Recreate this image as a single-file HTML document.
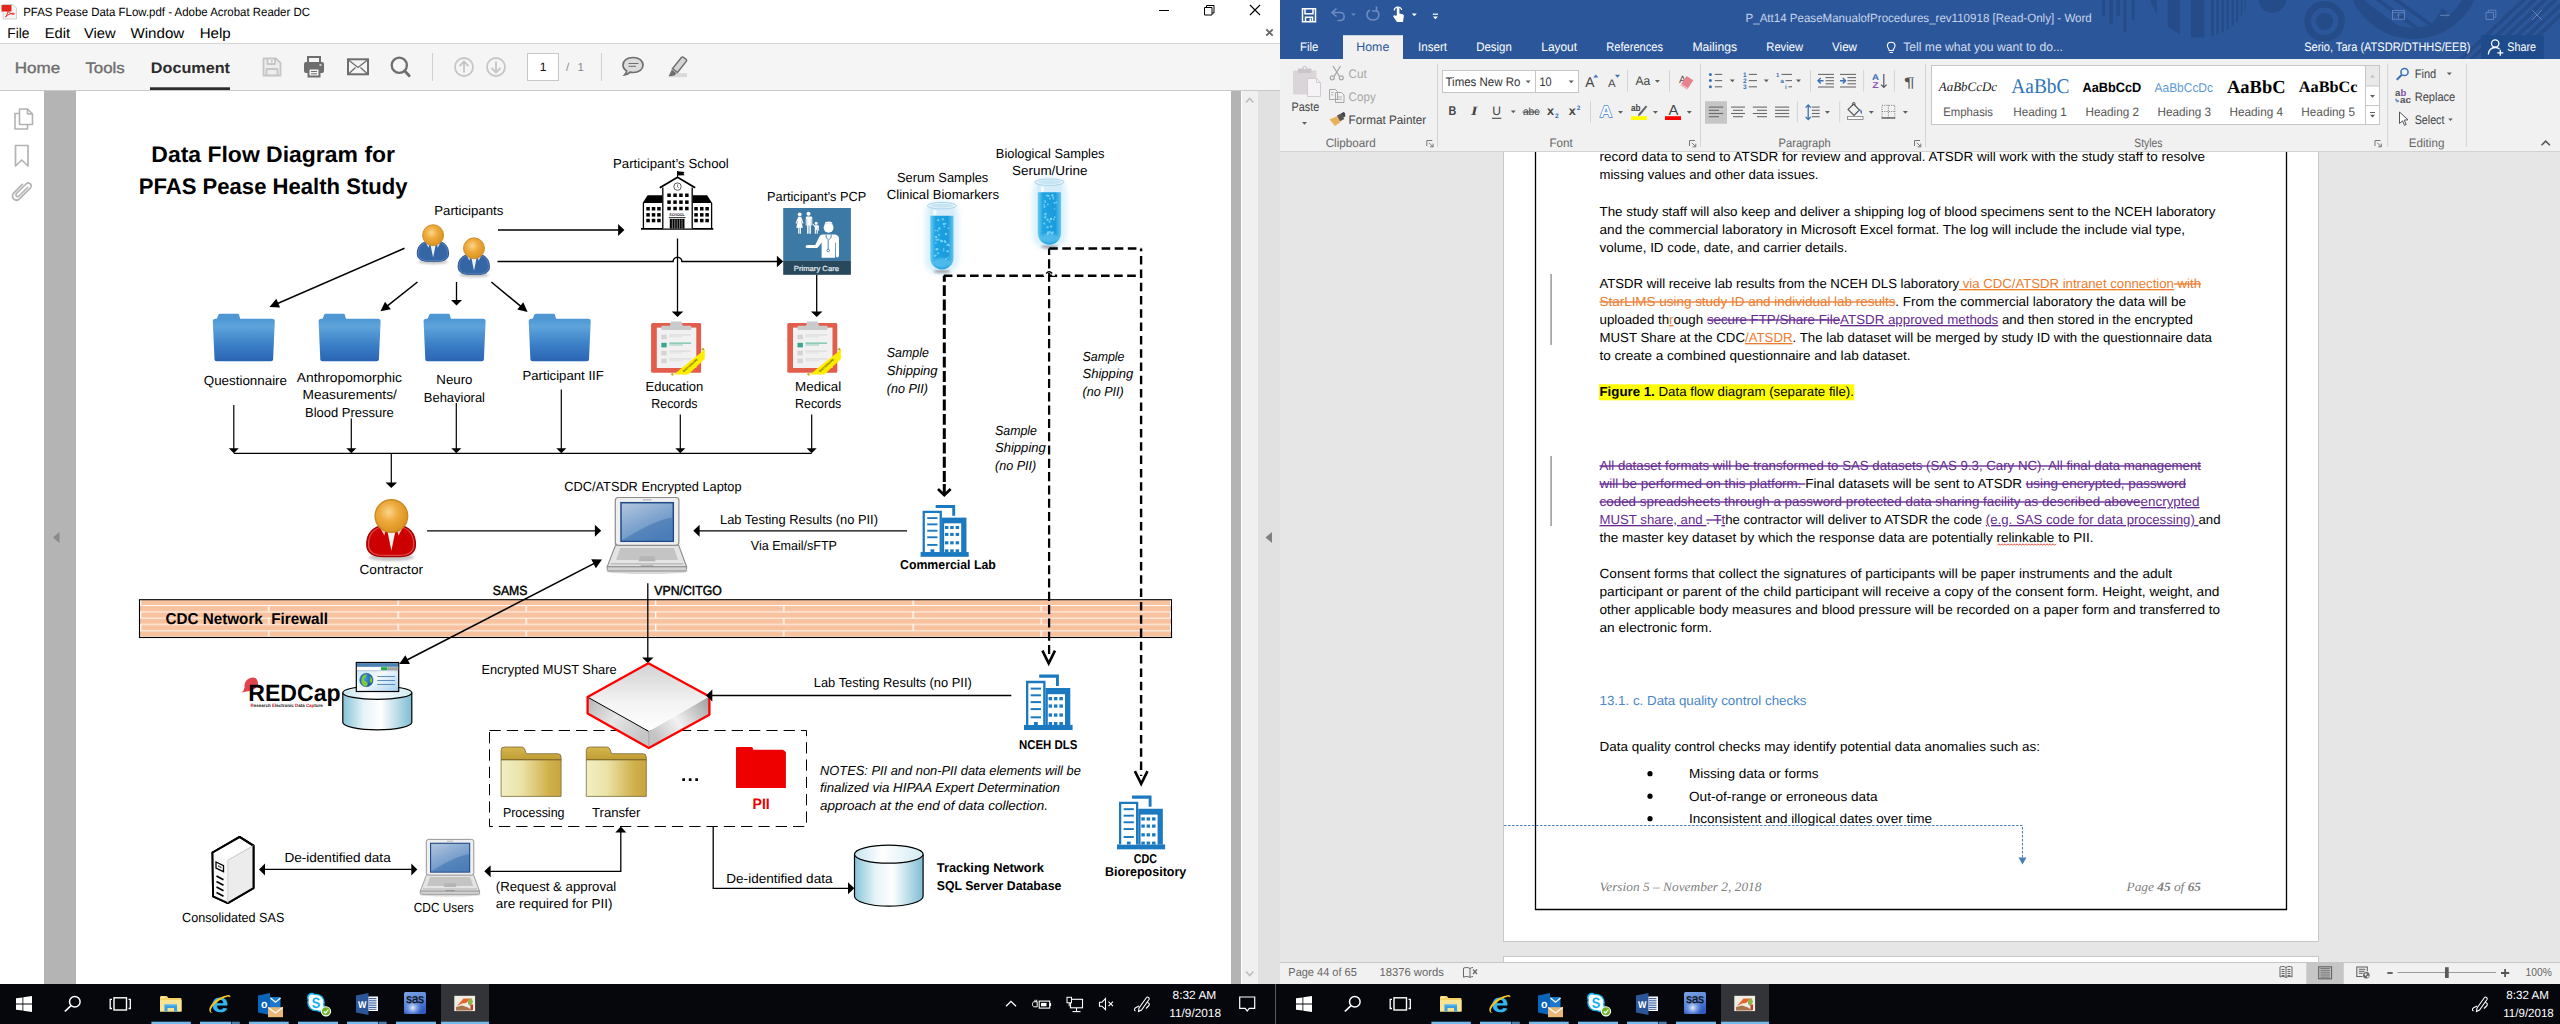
<!DOCTYPE html>
<html lang="en"><head><meta charset="utf-8"><title>PFAS Pease Data Flow - Acrobat Reader / Word</title>
<style>
html,body{margin:0;padding:0;background:#fff;overflow:hidden}
body{width:2560px;height:1024px;position:relative}
svg{position:absolute;left:0;top:0;display:block;font-family:"Liberation Sans",sans-serif;font-size:13.2px;fill:#000}
svg text{white-space:pre}
</style></head><body>
<svg width="2560" height="1024" viewBox="0 0 2560 1024" text-rendering="geometricPrecision">
<g id="acrobat-window"><rect x="0" y="0" width="1280" height="44" fill="#ffffff"/>
<rect x="0" y="44" width="1280" height="46" fill="#f5f5f5"/>
<rect x="0" y="43" width="1280" height="1" fill="#d4d4d4"/>
<rect x="0" y="90" width="1280" height="1" fill="#c9c9c9"/>
<rect x="0" y="91" width="44" height="893" fill="#ffffff"/>
<rect x="44" y="91" width="32" height="893" fill="#b4b4b4"/>
<rect x="76" y="91" width="1155" height="893" fill="#ffffff"/>
<rect x="1231" y="91" width="10" height="893" fill="#b4b4b4"/>
<rect x="1241" y="91" width="17" height="893" fill="#f0f0f0"/>
<rect x="1258" y="91" width="22" height="893" fill="#e1e1e1"/>
<rect x="1241" y="91" width="1" height="893" fill="#ffffff"/>
<g><path d="M3 4.5h10l3.5 3.5v11h-13.5z" fill="#f4f4f4" stroke="#c8c8c8" stroke-width="0.8"/><rect x="1.5" y="5" width="10" height="6.5" fill="#e1251b"/><path d="M5.5 17c2-2.5 3-6 2.6-8.6c-.3-1.3-1.5-.8-1.2.8c.6 2.6 3.4 5 6.6 5.2c1.4 0 1.2-1.3-.3-1.2c-2.6.2-6 1.6-7.7 3.8z" fill="none" stroke="#e1251b" stroke-width="0.9"/></g>
<text x="23.2" y="15.5" textLength="286.8" lengthAdjust="spacingAndGlyphs" font-size="12" fill="#000">PFAS Pease Data FLow.pdf - Adobe Acrobat Reader DC</text>
<line x1="1159" y1="10.5" x2="1169" y2="10.5" stroke="#000" stroke-width="1"/>
<path d="M1204.5 7.5h7.5v7.5h-7.5z M1206.5 7.5v-2h7.5v7.5h-2" fill="none" stroke="#000" stroke-width="1"/>
<path d="M1250 5l10 10M1260 5l-10 10" fill="none" stroke="#000" stroke-width="1.1"/>
<path d="M1266.3 29.3l6.4 6.4M1272.7 29.3l-6.4 6.4" fill="none" stroke="#666" stroke-width="1.8"/>
<text x="7.3" y="38.3" textLength="22.2" lengthAdjust="spacingAndGlyphs" font-size="14.2" fill="#000">File</text>
<text x="44.7" y="38.3" textLength="25.3" lengthAdjust="spacingAndGlyphs" font-size="14.2" fill="#000">Edit</text>
<text x="84" y="38.3" textLength="31.6" lengthAdjust="spacingAndGlyphs" font-size="14.2" fill="#000">View</text>
<text x="130.5" y="38.3" textLength="53.7" lengthAdjust="spacingAndGlyphs" font-size="14.2" fill="#000">Window</text>
<text x="199.7" y="38.3" textLength="31" lengthAdjust="spacingAndGlyphs" font-size="14.2" fill="#000">Help</text>
<text x="14.8" y="72.7" textLength="45.4" lengthAdjust="spacingAndGlyphs" font-size="15.2" fill="#6e6e6e" stroke="#6e6e6e" stroke-width="0.35">Home</text>
<text x="85.4" y="72.7" textLength="39.4" lengthAdjust="spacingAndGlyphs" font-size="15.2" fill="#6e6e6e" stroke="#6e6e6e" stroke-width="0.35">Tools</text>
<text x="150.8" y="72.7" textLength="79.2" lengthAdjust="spacingAndGlyphs" font-size="15.2" fill="#2c2c2c" font-weight="bold">Document</text>
<rect x="150" y="87.3" width="80" height="2.7" fill="#2c2c2c"/>
<path d="M263.5 58.5h12.5l4.5 4.5v12.5h-17z M267.5 58.5v5.5h7.5v-5.5 M271.8 60v2.5 M266.5 75.5v-6.5h11v6.5" fill="#ededed" stroke="#c6c6c6" stroke-width="1.8" stroke-linejoin="round"/>
<path d="M308 62v-5h12v5" fill="#f5f5f5" stroke="#6e6e6e" stroke-width="2"/><rect x="304" y="62" width="20" height="11" fill="#6e6e6e" rx="2"/><rect x="308.5" y="68.5" width="11" height="8" fill="#f5f5f5" stroke="#6e6e6e" stroke-width="2"/><line x1="311" y1="71.5" x2="317" y2="71.5" stroke="#6e6e6e" stroke-width="1"/><line x1="311" y1="73.8" x2="317" y2="73.8" stroke="#6e6e6e" stroke-width="1"/><rect x="319.5" y="64.3" width="2" height="1.4" fill="#f5f5f5"/>
<rect x="348" y="59.3" width="20" height="15" fill="#f5f5f5" stroke="#6e6e6e" stroke-width="2"/><path d="M348.5 60l9.5 7.5l9.5-7.5M348.5 74l7-6.5M367.5 74l-7-6.5" fill="none" stroke="#6e6e6e" stroke-width="1.3"/>
<circle cx="399.3" cy="65.3" r="7.6" fill="none" stroke="#6e6e6e" stroke-width="2.3"/><line x1="404.8" y1="71" x2="409.2" y2="75.8" stroke="#6e6e6e" stroke-width="2.8" stroke-linecap="round"/>
<line x1="432.5" y1="53" x2="432.5" y2="81" stroke="#d0d0d0" stroke-width="1"/>
<circle cx="464" cy="67" r="9" fill="none" stroke="#c6c6c6" stroke-width="1.8"/><path d="M464 72.5v-10.5M459.5 66l4.5-4.5l4.5 4.5" fill="none" stroke="#c6c6c6" stroke-width="1.8"/>
<circle cx="496" cy="67" r="9" fill="none" stroke="#c6c6c6" stroke-width="1.8"/><path d="M496 61.5v10.5M491.5 68l4.5 4.5l4.5-4.5" fill="none" stroke="#c6c6c6" stroke-width="1.8"/>
<rect x="527.5" y="53.5" width="31" height="27" fill="#ffffff" stroke="#c8c8c8" stroke-width="1"/>
<text x="543" y="70.6" font-size="12" fill="#111" text-anchor="middle">1</text>
<text x="566" y="70.6" font-size="11.5" fill="#8a8a8a">/</text>
<text x="577.5" y="70.6" font-size="11.5" fill="#8a8a8a">1</text>
<line x1="601.5" y1="53" x2="601.5" y2="81" stroke="#d0d0d0" stroke-width="1"/>
<path d="M633 57.5c6 0 10 3.3 10 7.5s-4 7.5-10 7.5c-1 0-2-.1-2.9-.3c-1.5 1.6-3.4 2.4-5.4 2.6c1.1-1.1 1.8-2.400 1.9-3.900c-2.200-1.400-3.600-3.500-3.600-5.900c0-4.200 4-7.500 10-7.500z" fill="#dcdcdc" stroke="#6e6e6e" stroke-width="1.7"/><line x1="628.5" y1="63.5" x2="638.5" y2="63.5" stroke="#6e6e6e" stroke-width="1"/><line x1="628.5" y1="66.3" x2="636" y2="66.3" stroke="#6e6e6e" stroke-width="1"/>
<rect x="670" y="73.2" width="17" height="4" fill="#d9d9d9"/><path d="M683.5 57.3l2.8 2.2c.5.5.5 1.100.1 1.600l-8.900 11.400l-5-3.900l8.900-11.100c.6-.6 1.4-.7 2.100-.2z" fill="#d4d4d4" stroke="#6e6e6e" stroke-width="1.5"/><path d="M671.800 69.500l4.800 3.700l-2.200 2.300l-5.900 1.100z" fill="#6e6e6e"/>
<path d="M19.500 109h8l5 5v10.500h-13z M27.500 109v5h5 M19.500 113.500h-4.500v15.500h12.500v-4.500" fill="none" stroke="#b3b3b3" stroke-width="1.6" stroke-linejoin="round"/>
<path d="M15.500 145.500h12.500v20.500l-6.250-6l-6.250 6z" fill="none" stroke="#b3b3b3" stroke-width="1.7" stroke-linejoin="round"/>
<path d="M27.500 187.500l-8.500 8.500c-1.700 1.700-4.200-.8-2.500-2.500l9.500-9.500c3-3 7.200 1.200 4.200 4.200l-10.500 10.500c-4.200 4.200-10-1.600-5.800-5.800l8.500-8.500" fill="none" stroke="#b3b3b3" stroke-width="1.7" stroke-linecap="round"/>
<path d="M59.500 532v11l-6.500-5.500z" fill="#8a8a8a"/>
<path d="M1272 532v11l-6.500-5.500z" fill="#808080"/>
<path d="M1246 102.500l3.700-4l3.700 4" fill="none" stroke="#bdbdbd" stroke-width="1.6"/>
<path d="M1246 971.500l3.700 4l3.700-4" fill="none" stroke="#bdbdbd" stroke-width="1.6"/></g>
<g id="pdf-page-diagram"><defs>
<filter id="blur3" x="-30%" y="-30%" width="160%" height="160%"><feGaussianBlur stdDeviation="2.5"/></filter><filter id="blur1" x="-30%" y="-50%" width="160%" height="200%"><feGaussianBlur stdDeviation="0.9"/></filter>
<radialGradient id="headg" cx="0.42" cy="0.38" r="0.65"><stop offset="0" stop-color="#fbd58a"/><stop offset="0.45" stop-color="#eeaa3c"/><stop offset="1" stop-color="#d8901f"/></radialGradient>
<linearGradient id="bfold" x1="0" y1="0" x2="0" y2="1"><stop offset="0" stop-color="#4e97d4"/><stop offset="0.18" stop-color="#5ea4db"/><stop offset="0.6" stop-color="#3c80c7"/><stop offset="1" stop-color="#2a64b4"/></linearGradient>
<linearGradient id="tubeg" x1="0" y1="0" x2="1" y2="0"><stop offset="0" stop-color="#6ccbf3"/><stop offset="0.22" stop-color="#1fa4e2"/><stop offset="0.75" stop-color="#1a9adb"/><stop offset="1" stop-color="#63c6f1"/></linearGradient>
<linearGradient id="scrg" x1="0" y1="0" x2="0.6" y2="1"><stop offset="0" stop-color="#b4c8e0"/><stop offset="0.5" stop-color="#86a8d0"/><stop offset="1" stop-color="#5a8bc4"/></linearGradient>
<linearGradient id="cylg" x1="0" y1="0" x2="1" y2="0"><stop offset="0" stop-color="#86c3d6"/><stop offset="0.3" stop-color="#e4f3f8"/><stop offset="0.55" stop-color="#ffffff"/><stop offset="1" stop-color="#7dbdd3"/></linearGradient>
<linearGradient id="cylgt" x1="0" y1="0" x2="1" y2="0"><stop offset="0" stop-color="#c5e4ee"/><stop offset="0.4" stop-color="#ffffff"/><stop offset="1" stop-color="#d2ebf2"/></linearGradient>
<linearGradient id="yfb" x1="0" y1="0" x2="0" y2="1"><stop offset="0" stop-color="#d6b74e"/><stop offset="1" stop-color="#bf9c34"/></linearGradient>
<linearGradient id="yff" x1="0" y1="0" x2="1" y2="0"><stop offset="0" stop-color="#f2efc4"/><stop offset="0.35" stop-color="#ebe2a6"/><stop offset="0.8" stop-color="#d0b04a"/><stop offset="1" stop-color="#c9a63e"/></linearGradient>
<linearGradient id="mtop" x1="0.5" y1="0" x2="0.5" y2="1"><stop offset="0" stop-color="#d2d2d2"/><stop offset="0.6" stop-color="#f4f4f4"/><stop offset="1" stop-color="#ffffff"/></linearGradient>
<linearGradient id="mleft" x1="0" y1="0" x2="1" y2="0.6"><stop offset="0" stop-color="#b4b4b4"/><stop offset="0.5" stop-color="#e6e6e6"/><stop offset="1" stop-color="#c6c6c6"/></linearGradient>
<linearGradient id="mright" x1="0" y1="0.6" x2="1" y2="0"><stop offset="0" stop-color="#c4c4c4"/><stop offset="0.4" stop-color="#f2f2f2"/><stop offset="1" stop-color="#9c9c9c"/></linearGradient>
<linearGradient id="brw" x1="0" y1="0" x2="1" y2="1"><stop offset="0" stop-color="#bcdcf4"/><stop offset="0.5" stop-color="#f4faff"/><stop offset="1" stop-color="#a4cdee"/></linearGradient>
<radialGradient id="globe" cx="0.4" cy="0.4" r="0.7"><stop offset="0" stop-color="#3f9ee0"/><stop offset="1" stop-color="#14509e"/></radialGradient>
<pattern id="brick" x="140" y="592.340" width="257.500" height="12.660" patternUnits="userSpaceOnUse"><rect width="257.500" height="12.660" fill="#f8c29e"/><rect y="0" width="257.500" height="1" fill="#fff" opacity="0.92"/><rect y="6.330" width="257.500" height="1" fill="#fff" opacity="0.92"/><rect x="128.100" y="0" width="1.300" height="6.330" fill="#fff"/><rect x="0" y="6.330" width="1.300" height="6.330" fill="#fff"/></pattern>
</defs>
<text x="151.3" y="162" textLength="243.7" lengthAdjust="spacingAndGlyphs" font-size="22.4" font-weight="bold">Data Flow Diagram for</text>
<text x="138.8" y="194" textLength="268.7" lengthAdjust="spacingAndGlyphs" font-size="22.4" font-weight="bold">PFAS Pease Health Study</text>
<text x="434.3" y="214.7" textLength="69" lengthAdjust="spacingAndGlyphs" font-size="13.2">Participants</text>
<text x="613" y="168" textLength="115.8" lengthAdjust="spacingAndGlyphs" font-size="13.2">Participant’s School</text>
<text x="767" y="200.5" textLength="99.3" lengthAdjust="spacingAndGlyphs" font-size="13.2">Participant’s PCP</text>
<text x="897" y="181.8" textLength="91.3" lengthAdjust="spacingAndGlyphs" font-size="13.2">Serum Samples</text>
<text x="886.8" y="198.8" textLength="112.2" lengthAdjust="spacingAndGlyphs" font-size="13.2">Clinical Biomarkers</text>
<text x="995.8" y="158" textLength="108.7" lengthAdjust="spacingAndGlyphs" font-size="13.2">Biological Samples</text>
<text x="1012" y="174.6" textLength="75.5" lengthAdjust="spacingAndGlyphs" font-size="13.2">Serum/Urine</text>
<ellipse cx="433.1" cy="261.95" rx="14.86" ry="2.28" fill="#000" opacity="0.22" filter="url(#blur1)"/><path d="M417.25 254.02 C416.95 246.1,422.2 241.64,428.15 241.44 L438.05 241.44 C444 241.64,448.75 246.1,448.55 254.02 C448.35 259.47,444 261.25,438.05 261.25 L428.15 261.25 C422.2 261.25,417.45 259.47,417.25 254.02Z" fill="#3465a4" stroke="#204a87" stroke-width="0.89"/><path d="M418.36 253.83 C418.08 246.46,422.97 242.32,428.49 242.13 L437.71 242.13 C443.23 242.32,447.66 246.46,447.47 253.83 C447.29 258.9,443.23 260.56,437.71 260.56 L428.49 260.56 C422.97 260.56,418.54 258.9,418.36 253.83Z" fill="none" stroke="#6a96cf" stroke-width="0.79" opacity="0.7"/><path d="M430.43 244.41 L433.1 257.59 L435.77 244.41Z" fill="#eef2f2"/><path d="M426.17 243.42 L428.54 247.68 L429.63 243.42Z M440.03 243.42 L437.66 247.68 L436.57 243.42Z" fill="#ffffff" opacity="0.78"/><circle cx="433.1" cy="235.2" r="10.5" fill="url(#headg)" stroke="#c98a23" stroke-width="0.89"/>
<ellipse cx="474" cy="275.05" rx="14.86" ry="2.28" fill="#000" opacity="0.22" filter="url(#blur1)"/><path d="M458.15 267.12 C457.85 259.2,463.1 254.74,469.05 254.54 L478.95 254.54 C484.9 254.74,489.65 259.2,489.45 267.12 C489.25 272.57,484.9 274.35,478.95 274.35 L469.05 274.35 C463.1 274.35,458.35 272.57,458.15 267.12Z" fill="#3465a4" stroke="#204a87" stroke-width="0.89"/><path d="M459.26 266.93 C458.98 259.56,463.87 255.42,469.39 255.23 L478.61 255.23 C484.13 255.42,488.56 259.56,488.37 266.93 C488.19 272,484.13 273.66,478.61 273.66 L469.39 273.66 C463.87 273.66,459.44 272,459.26 266.93Z" fill="none" stroke="#6a96cf" stroke-width="0.79" opacity="0.7"/><path d="M471.33 257.51 L474 270.69 L476.67 257.51Z" fill="#eef2f2"/><path d="M467.07 256.52 L469.44 260.78 L470.53 256.52Z M480.93 256.52 L478.56 260.78 L477.47 256.52Z" fill="#ffffff" opacity="0.78"/><circle cx="474" cy="248.3" r="10.5" fill="url(#headg)" stroke="#c98a23" stroke-width="0.89"/>
<line x1="498" y1="230" x2="619.36" y2="230" stroke="#000" stroke-width="1.3"/><polygon points="624.4,230 618.1,236 618.1,224" fill="#000"/>
<path d="M497.500 261.600H673.100a4.400 4.400 0 0 1 8.800 0H778.500" fill="none" stroke="#000" stroke-width="1.5"/><polygon points="783.2,261.6 776.9,267.35 776.9,255.85" fill="#000"/>
<line x1="677.5" y1="238.5" x2="677.5" y2="312.6" stroke="#000" stroke-width="1.3"/><polygon points="677.5,317 671.75,311.5 683.25,311.5" fill="#000"/>
<line x1="816.7" y1="274.8" x2="816.7" y2="312.6" stroke="#000" stroke-width="1.3"/><polygon points="816.7,317 810.95,311.5 822.45,311.5" fill="#000"/>
<line x1="404.5" y1="248.3" x2="276.47" y2="303.97" stroke="#000" stroke-width="1.5"/><polygon points="269.5,307 276.32,298.86 280.11,307.57" fill="#000"/>
<line x1="417.5" y1="282" x2="386.46" y2="306.58" stroke="#000" stroke-width="1.5"/><polygon points="380.5,311.3 385,301.68 390.9,309.13" fill="#000"/>
<line x1="456.5" y1="282" x2="456.5" y2="301.2" stroke="#000" stroke-width="1.3"/><polygon points="456.5,305.6 451,300.1 462,300.1" fill="#000"/>
<line x1="491.3" y1="282" x2="521.74" y2="307.16" stroke="#000" stroke-width="1.5"/><polygon points="527.6,312 517.25,309.61 523.3,302.29" fill="#000"/>
<path d="M216.3 319.7l2.300-5.200q.4-.8 1.400-.8h17.600q1 0 1.300.8l1.600 5.200z" fill="#4f97d3"/><path d="M212.8 321.3q0-2.600 2.600-2.600h56.800q2.600 0 2.600 2.600l-1.700 38q-.1 2-2 2h-54.600q-1.900 0-2-2z" fill="url(#bfold)"/>
<path d="M322.1 319.7l2.300-5.200q.4-.8 1.400-.8h17.600q1 0 1.300.8l1.600 5.200z" fill="#4f97d3"/><path d="M318.6 321.3q0-2.600 2.600-2.600h56.800q2.600 0 2.600 2.600l-1.700 38q-.1 2-2 2h-54.600q-1.900 0-2-2z" fill="url(#bfold)"/>
<path d="M427.1 319.7l2.300-5.200q.4-.8 1.400-.8h17.600q1 0 1.300.8l1.600 5.200z" fill="#4f97d3"/><path d="M423.6 321.3q0-2.600 2.600-2.600h56.800q2.600 0 2.600 2.600l-1.700 38q-.1 2-2 2h-54.600q-1.900 0-2-2z" fill="url(#bfold)"/>
<path d="M532.2 319.7l2.300-5.200q.4-.8 1.400-.8h17.600q1 0 1.300.8l1.600 5.200z" fill="#4f97d3"/><path d="M528.7 321.3q0-2.600 2.600-2.600h56.800q2.600 0 2.600 2.600l-1.700 38q-.1 2-2 2h-54.600q-1.900 0-2-2z" fill="url(#bfold)"/>
<text x="203.8" y="385" textLength="83.2" lengthAdjust="spacingAndGlyphs" font-size="13.2">Questionnaire</text>
<text x="296.8" y="382" textLength="105.2" lengthAdjust="spacingAndGlyphs" font-size="13.2">Anthropomorphic</text>
<text x="302.5" y="398.8" textLength="94.3" lengthAdjust="spacingAndGlyphs" font-size="13.2">Measurements/</text>
<text x="305" y="416.8" textLength="88.8" lengthAdjust="spacingAndGlyphs" font-size="13.2">Blood Pressure</text>
<text x="436.3" y="383.8" textLength="36.2" lengthAdjust="spacingAndGlyphs" font-size="13.2">Neuro</text>
<text x="423.8" y="402" textLength="61.2" lengthAdjust="spacingAndGlyphs" font-size="13.2">Behavioral</text>
<text x="522.5" y="380" textLength="81.3" lengthAdjust="spacingAndGlyphs" font-size="13.2">Participant IIF</text>
<text x="645.5" y="391.3" textLength="57.8" lengthAdjust="spacingAndGlyphs" font-size="13.2">Education</text>
<text x="651.3" y="408" textLength="46.2" lengthAdjust="spacingAndGlyphs" font-size="13.2">Records</text>
<text x="795" y="391.3" textLength="46.3" lengthAdjust="spacingAndGlyphs" font-size="13.2">Medical</text>
<text x="795" y="408" textLength="46.3" lengthAdjust="spacingAndGlyphs" font-size="13.2">Records</text>
<line x1="641" y1="228.9" x2="713.3" y2="228.9" stroke="#000" stroke-width="1.6"/><path d="M662.800 228.500v-41l14.700-9l14.700 9v41z" fill="#fff"/><path d="M662.800 228.500v-41M692.200 228.500v-41" fill="none" stroke="#000" stroke-width="1.3"/><path d="M659.800 187.800l17.700-10.500l17.700 10.500" fill="none" stroke="#000" stroke-width="1.9"/><line x1="677.5" y1="177.5" x2="677.5" y2="171" stroke="#000" stroke-width="1"/><path d="M677.500 171.300l7 .6l-1 1.600l1 1.800l-7 .3z" fill="#000"/><circle cx="677.5" cy="186.6" r="3.7" fill="#fff" stroke="#333" stroke-width="0.8"/><path d="M677.500 184.300v2.500l1.300 1" fill="none" stroke="#333" stroke-width="0.6"/><rect x="667.3" y="193.5" width="3.5" height="3.5" fill="#000"/><rect x="667.3" y="200.4" width="3.5" height="3.5" fill="#000"/><rect x="667.3" y="206.8" width="3.5" height="3.5" fill="#000"/><rect x="673.3" y="193.5" width="3.5" height="3.5" fill="#000"/><rect x="673.3" y="200.4" width="3.5" height="3.5" fill="#000"/><rect x="673.3" y="206.8" width="3.5" height="3.5" fill="#000"/><rect x="679.2" y="193.5" width="3.5" height="3.5" fill="#000"/><rect x="679.2" y="200.4" width="3.5" height="3.5" fill="#000"/><rect x="679.2" y="206.8" width="3.5" height="3.5" fill="#000"/><rect x="685.1" y="193.5" width="3.5" height="3.5" fill="#000"/><rect x="685.1" y="200.4" width="3.5" height="3.5" fill="#000"/><rect x="685.1" y="206.8" width="3.5" height="3.5" fill="#000"/><text x="669.3" y="215.8" textLength="15.5" lengthAdjust="spacingAndGlyphs" font-size="3.9" fill="#222" font-weight="bold">SCHOOL</text><line x1="668.8" y1="217.7" x2="685.5" y2="217.7" stroke="#000" stroke-width="0.9"/><rect x="669.8" y="219" width="14.7" height="9.6" fill="#000"/><line x1="672.3" y1="219.3" x2="672.3" y2="228.5" stroke="#fff" stroke-width="0.5"/><line x1="674.8" y1="219.3" x2="674.8" y2="228.5" stroke="#fff" stroke-width="0.5"/><line x1="677.2" y1="219.3" x2="677.2" y2="228.5" stroke="#fff" stroke-width="0.5"/><line x1="679.6" y1="219.3" x2="679.6" y2="228.5" stroke="#fff" stroke-width="0.5"/><line x1="682" y1="219.3" x2="682" y2="228.5" stroke="#fff" stroke-width="0.5"/><path d="M647.600 195.200h14.600v7.800h-19.600z" fill="#000"/><path d="M692.800 195.200h14.300l5 7.800h-19.300z" fill="#000"/><path d="M643.400 203v25.500M711.600 203v25.500" fill="none" stroke="#000" stroke-width="1.3"/><rect x="646.3" y="207" width="3.5" height="3.5" fill="#000"/><rect x="646.3" y="213.1" width="3.5" height="3.5" fill="#000"/><rect x="646.3" y="218.8" width="3.5" height="3.5" fill="#000"/><rect x="651.8" y="207" width="3.5" height="3.5" fill="#000"/><rect x="651.8" y="213.1" width="3.5" height="3.5" fill="#000"/><rect x="651.8" y="218.8" width="3.5" height="3.5" fill="#000"/><rect x="657.2" y="207" width="3.5" height="3.5" fill="#000"/><rect x="657.2" y="213.1" width="3.5" height="3.5" fill="#000"/><rect x="657.2" y="218.8" width="3.5" height="3.5" fill="#000"/><rect x="694.3" y="207" width="3.5" height="3.5" fill="#000"/><rect x="694.3" y="213.1" width="3.5" height="3.5" fill="#000"/><rect x="694.3" y="218.8" width="3.5" height="3.5" fill="#000"/><rect x="700" y="207" width="3.5" height="3.5" fill="#000"/><rect x="700" y="213.1" width="3.5" height="3.5" fill="#000"/><rect x="700" y="218.8" width="3.5" height="3.5" fill="#000"/><rect x="705.4" y="207" width="3.5" height="3.5" fill="#000"/><rect x="705.4" y="213.1" width="3.5" height="3.5" fill="#000"/><rect x="705.4" y="218.8" width="3.5" height="3.5" fill="#000"/>
<rect x="783.2" y="208" width="67.7" height="52.9" fill="#3d79a5"/><rect x="783.2" y="260.8" width="67.7" height="14" fill="#28495d"/><text x="793.8" y="270.6" textLength="45.2" lengthAdjust="spacingAndGlyphs" font-size="7.4" fill="#e8eef2" stroke="#e8eef2" stroke-width="0.2">Primary Care</text><circle cx="799.7" cy="214.3" r="1.9" fill="#ffffff"/><path d="M798.200 216.800h3l2.300 6.500l-.9.400l-1.700-4l2 8h-2v6h-1.100v-6h-.5v6h-1.100v-6h-2l2-8l-1.700 4l-.9-.4z" fill="#ffffff"/><circle cx="808.5" cy="213.8" r="2" fill="#ffffff"/><path d="M806 216.600h5q1.300 0 1.300 1.400v7.400h-1v-6.600h-.4v15h-1.500v-8.400h-.8v8.400h-1.500v-15h-.4v6.600h-1v-7.400q0-1.400 1.300-1.400z" fill="#ffffff"/><circle cx="816.2" cy="223.3" r="1.5" fill="#ffffff"/><path d="M814.500 225.300h3.400q1 0 1 1v4.400h-.8v-3.800h-.3v6.900h-1.100v-4h-.8v4h-1.100v-6.900l-2.100-2.500l.5-.6z" fill="#ffffff"/><circle cx="828.6" cy="227.8" r="4.9" fill="#ffffff"/><path d="M824.800 224.300q3.800-2.600 7.600 0l-.4-2q-3.400-1.600-6.800 0z" fill="#ffffff"/><path d="M822.500 234.500h12.500q4 .6 4 4.500v16q0 2.600-1.600 2.600t-1.600-2.600v-12.500h-.7v15.300h-13.500v-15.300l-3.300 4.600q-.7 1-1.900 1h-9q-1.800 0-1.800-1.500t1.800-1.600h7.800l4.300-8.500q1-2 3-2z" fill="#ffffff"/><path d="M826 234.800q-.3 4 2.200 4.600v9.800 M831.300 234.800q.3 4-2.200 4.600" fill="none" stroke="#3d79a5" stroke-width="0.9"/><circle cx="828.2" cy="250.5" r="1.3" fill="none" stroke="#3d79a5" stroke-width="0.9"/>
<rect x="924.9" y="200.7" width="34" height="73.3" fill="#bfe6fa" rx="14" filter="url(#blur3)" opacity="0.55"/><ellipse cx="941.9" cy="271.5" rx="8.5" ry="1.7" fill="#000" opacity="0.30" filter="url(#blur1)"/><path d="M929.5 206.2v51.4a12.400 12.400 0 0 0 24.800 0v-51.4z" fill="#d6edf9"/><path d="M930.3 215.7v42.2a11.600 11.600 0 0 0 23.200 0v-42.2z" fill="url(#tubeg)"/><ellipse cx="941.9" cy="263" rx="9" ry="5" fill="#7fd4f7" opacity="0.5" filter="url(#blur1)"/><circle cx="943.8" cy="223.82" r="1.19" fill="#8fe0ff" opacity="0.7"/><circle cx="937.58" cy="230.67" r="0.91" fill="#8fe0ff" opacity="0.7"/><circle cx="948.87" cy="245.17" r="1.16" fill="#8fe0ff" opacity="0.7"/><circle cx="944.29" cy="226.62" r="0.83" fill="#8fe0ff" opacity="0.7"/><circle cx="947.53" cy="251.18" r="1.21" fill="#8fe0ff" opacity="0.7"/><circle cx="940.79" cy="240.5" r="0.97" fill="#8fe0ff" opacity="0.7"/><circle cx="936.24" cy="249.38" r="1.01" fill="#8fe0ff" opacity="0.7"/><circle cx="947.01" cy="245.4" r="0.78" fill="#8fe0ff" opacity="0.7"/><circle cx="935.45" cy="230.49" r="0.79" fill="#8fe0ff" opacity="0.7"/><circle cx="938.99" cy="235.12" r="1.06" fill="#8fe0ff" opacity="0.7"/><circle cx="945.98" cy="233.93" r="1.23" fill="#8fe0ff" opacity="0.7"/><circle cx="948.37" cy="228.12" r="0.92" fill="#8fe0ff" opacity="0.7"/><circle cx="938.35" cy="239.65" r="1.07" fill="#8fe0ff" opacity="0.7"/><circle cx="948.14" cy="257.42" r="0.71" fill="#8fe0ff" opacity="0.7"/><circle cx="945.31" cy="242.09" r="1.18" fill="#8fe0ff" opacity="0.7"/><circle cx="939.35" cy="228.52" r="1.19" fill="#8fe0ff" opacity="0.7"/><circle cx="935.91" cy="255.31" r="0.76" fill="#8fe0ff" opacity="0.7"/><circle cx="946.19" cy="258.9" r="0.88" fill="#8fe0ff" opacity="0.7"/><circle cx="943.85" cy="224.57" r="0.77" fill="#8fe0ff" opacity="0.7"/><circle cx="947.73" cy="244.32" r="0.92" fill="#8fe0ff" opacity="0.7"/><circle cx="944.82" cy="240.98" r="1.09" fill="#8fe0ff" opacity="0.7"/><circle cx="935.01" cy="255.86" r="1.15" fill="#8fe0ff" opacity="0.7"/><circle cx="943.62" cy="250.43" r="0.87" fill="#8fe0ff" opacity="0.7"/><circle cx="941.9" cy="241.23" r="1.25" fill="#8fe0ff" opacity="0.7"/><circle cx="945.63" cy="223.69" r="0.84" fill="#8fe0ff" opacity="0.7"/><circle cx="936.77" cy="237.53" r="0.76" fill="#8fe0ff" opacity="0.7"/><circle cx="937.29" cy="249.16" r="1.21" fill="#8fe0ff" opacity="0.7"/><circle cx="942.88" cy="219.39" r="1.08" fill="#8fe0ff" opacity="0.7"/><circle cx="938.04" cy="253.26" r="1.1" fill="#8fe0ff" opacity="0.7"/><circle cx="938.2" cy="220.1" r="1.19" fill="#8fe0ff" opacity="0.7"/><circle cx="935.95" cy="236.9" r="1.19" fill="#8fe0ff" opacity="0.7"/><circle cx="936.36" cy="239.84" r="1.12" fill="#8fe0ff" opacity="0.7"/><circle cx="935.87" cy="243" r="0.87" fill="#8fe0ff" opacity="0.7"/><circle cx="943.76" cy="248.57" r="0.79" fill="#8fe0ff" opacity="0.7"/><ellipse cx="941.9" cy="205.7" rx="14.6" ry="3.2" fill="#e8f5fc" stroke="#a9d3ea" stroke-width="1"/><ellipse cx="941.9" cy="205.7" rx="11.5" ry="2" fill="#c5e4f4"/><rect x="933.4" y="210.2" width="3" height="5" fill="#fff" opacity="0.8"/>
<rect x="1032.4" y="177.2" width="34" height="72" fill="#bfe6fa" rx="14" filter="url(#blur3)" opacity="0.55"/><ellipse cx="1049.4" cy="246.7" rx="8.5" ry="1.7" fill="#000" opacity="0.30" filter="url(#blur1)"/><path d="M1037 182.7v50.1a12.400 12.400 0 0 0 24.800 0v-50.1z" fill="#d6edf9"/><path d="M1037.8 192.2v40.9a11.600 11.600 0 0 0 23.200 0v-40.9z" fill="url(#tubeg)"/><ellipse cx="1049.4" cy="238.2" rx="9" ry="5" fill="#7fd4f7" opacity="0.5" filter="url(#blur1)"/><circle cx="1053.92" cy="219.85" r="0.75" fill="#8fe0ff" opacity="0.7"/><circle cx="1047.81" cy="204.3" r="0.91" fill="#8fe0ff" opacity="0.7"/><circle cx="1056.32" cy="202.43" r="0.88" fill="#8fe0ff" opacity="0.7"/><circle cx="1044.61" cy="206.3" r="0.95" fill="#8fe0ff" opacity="0.7"/><circle cx="1045.64" cy="213.28" r="0.77" fill="#8fe0ff" opacity="0.7"/><circle cx="1044.03" cy="204.59" r="0.76" fill="#8fe0ff" opacity="0.7"/><circle cx="1054.72" cy="217.06" r="0.91" fill="#8fe0ff" opacity="0.7"/><circle cx="1054.59" cy="209.02" r="0.7" fill="#8fe0ff" opacity="0.7"/><circle cx="1051.95" cy="233.32" r="1.18" fill="#8fe0ff" opacity="0.7"/><circle cx="1047.02" cy="195.56" r="1.15" fill="#8fe0ff" opacity="0.7"/><circle cx="1050.9" cy="218.89" r="1.12" fill="#8fe0ff" opacity="0.7"/><circle cx="1044.68" cy="224.05" r="0.75" fill="#8fe0ff" opacity="0.7"/><circle cx="1051.04" cy="218.89" r="1.1" fill="#8fe0ff" opacity="0.7"/><circle cx="1052.84" cy="232.26" r="1.07" fill="#8fe0ff" opacity="0.7"/><circle cx="1048.55" cy="195.86" r="1.21" fill="#8fe0ff" opacity="0.7"/><circle cx="1052.34" cy="195.28" r="1.23" fill="#8fe0ff" opacity="0.7"/><circle cx="1054.56" cy="202.93" r="1" fill="#8fe0ff" opacity="0.7"/><circle cx="1047.8" cy="233.93" r="1.08" fill="#8fe0ff" opacity="0.7"/><circle cx="1043.99" cy="223.32" r="0.91" fill="#8fe0ff" opacity="0.7"/><circle cx="1053.22" cy="197.46" r="1.02" fill="#8fe0ff" opacity="0.7"/><circle cx="1047.56" cy="219.78" r="1.2" fill="#8fe0ff" opacity="0.7"/><circle cx="1051.17" cy="226.43" r="1.17" fill="#8fe0ff" opacity="0.7"/><circle cx="1053.57" cy="218.75" r="0.86" fill="#8fe0ff" opacity="0.7"/><circle cx="1044.39" cy="207.16" r="0.73" fill="#8fe0ff" opacity="0.7"/><circle cx="1053.63" cy="199.03" r="0.8" fill="#8fe0ff" opacity="0.7"/><circle cx="1048.21" cy="232.35" r="1.21" fill="#8fe0ff" opacity="0.7"/><circle cx="1045.2" cy="217.28" r="1.21" fill="#8fe0ff" opacity="0.7"/><circle cx="1049.9" cy="198.69" r="0.89" fill="#8fe0ff" opacity="0.7"/><circle cx="1050.01" cy="232.07" r="1.08" fill="#8fe0ff" opacity="0.7"/><circle cx="1044.96" cy="200.66" r="0.73" fill="#8fe0ff" opacity="0.7"/><circle cx="1047.57" cy="227.12" r="1.24" fill="#8fe0ff" opacity="0.7"/><circle cx="1045.29" cy="214.33" r="1.2" fill="#8fe0ff" opacity="0.7"/><circle cx="1045.1" cy="201.99" r="0.91" fill="#8fe0ff" opacity="0.7"/><circle cx="1049.62" cy="221.63" r="1.05" fill="#8fe0ff" opacity="0.7"/><ellipse cx="1049.4" cy="182.2" rx="14.6" ry="3.2" fill="#e8f5fc" stroke="#a9d3ea" stroke-width="1"/><ellipse cx="1049.4" cy="182.2" rx="11.5" ry="2" fill="#c5e4f4"/><rect x="1040.9" y="186.7" width="3" height="5" fill="#fff" opacity="0.8"/>
<rect x="651.1" y="322.9" width="50" height="49.8" fill="#e25d4c" rx="1.5"/><rect x="656.8" y="327.6" width="39.5" height="40.4" fill="#f1f1f1"/><path d="M671 321.5h10.600l1.200 4.300h7.500q1 0 1 1v2.200q0 1-1 1h-28q-1 0-1-1v-2.200q0-1 1-1h7.500z" fill="#c9cacb"/><rect x="661.3" y="334.6" width="5.4" height="4.6" fill="#d4d4d4"/><rect x="669.3" y="334.3" width="21.7" height="1.3" fill="#dcdcdc"/><rect x="669.3" y="336.2" width="13.5" height="1.1" fill="#dcdcdc" opacity="0.7"/><rect x="661.3" y="342.8" width="5.4" height="4.6" fill="#3aa890"/><rect x="669.3" y="342.5" width="21.7" height="1.3" fill="#72c2aa"/><rect x="669.3" y="344.4" width="13.5" height="1.1" fill="#72c2aa" opacity="0.7"/><rect x="661.3" y="350.8" width="5.4" height="4.6" fill="#d4d4d4"/><rect x="669.3" y="350.5" width="21.7" height="1.3" fill="#dcdcdc"/><rect x="669.3" y="352.4" width="13.5" height="1.1" fill="#dcdcdc" opacity="0.7"/><rect x="661.3" y="358.6" width="5.4" height="4.6" fill="#d4d4d4"/><rect x="669.3" y="358.3" width="21.7" height="1.3" fill="#dcdcdc"/><rect x="669.3" y="360.2" width="13.5" height="1.1" fill="#dcdcdc" opacity="0.7"/><path d="M701.4 349.4l1.500-1.800q2 1.200 1.500 3.800z" fill="#c9a81e"/><path d="M673.1 372.7l-2.500 1.200q.5 1.500 3 1.800z" fill="#c9a81e"/><path d="M704.7 349.4l0 9.500l-16.500 15.600l-14.500 0z" fill="#ffed00"/><g transform="translate(683.6,372.2) rotate(-41)"><text x="0" y="0" textLength="19" lengthAdjust="spacingAndGlyphs" font-size="2.6" fill="#4a4200" font-weight="bold">QUESTIONNAIRE</text></g>
<rect x="787.3" y="322.9" width="50" height="49.8" fill="#e25d4c" rx="1.5"/><rect x="793" y="327.6" width="39.5" height="40.4" fill="#f1f1f1"/><path d="M807.2 321.5h10.600l1.200 4.300h7.500q1 0 1 1v2.200q0 1-1 1h-28q-1 0-1-1v-2.200q0-1 1-1h7.500z" fill="#c9cacb"/><rect x="797.5" y="334.6" width="5.4" height="4.6" fill="#d4d4d4"/><rect x="805.5" y="334.3" width="21.7" height="1.3" fill="#dcdcdc"/><rect x="805.5" y="336.2" width="13.5" height="1.1" fill="#dcdcdc" opacity="0.7"/><rect x="797.5" y="342.8" width="5.4" height="4.6" fill="#3aa890"/><rect x="805.5" y="342.5" width="21.7" height="1.3" fill="#72c2aa"/><rect x="805.5" y="344.4" width="13.5" height="1.1" fill="#72c2aa" opacity="0.7"/><rect x="797.5" y="350.8" width="5.4" height="4.6" fill="#d4d4d4"/><rect x="805.5" y="350.5" width="21.7" height="1.3" fill="#dcdcdc"/><rect x="805.5" y="352.4" width="13.5" height="1.1" fill="#dcdcdc" opacity="0.7"/><rect x="797.5" y="358.6" width="5.4" height="4.6" fill="#d4d4d4"/><rect x="805.5" y="358.3" width="21.7" height="1.3" fill="#dcdcdc"/><rect x="805.5" y="360.2" width="13.5" height="1.1" fill="#dcdcdc" opacity="0.7"/><path d="M837.6 349.4l1.500-1.800q2 1.200 1.500 3.800z" fill="#c9a81e"/><path d="M809.3 372.7l-2.500 1.200q.5 1.500 3 1.800z" fill="#c9a81e"/><path d="M840.9 349.4l0 9.500l-16.500 15.600l-14.500 0z" fill="#ffed00"/><g transform="translate(819.8,372.2) rotate(-41)"><text x="0" y="0" textLength="19" lengthAdjust="spacingAndGlyphs" font-size="2.6" fill="#4a4200" font-weight="bold">QUESTIONNAIRE</text></g>
<rect x="139.5" y="599.7" width="1032" height="37.8" fill="url(#brick)" stroke="#000" stroke-width="1.1"/>
<path d="M943.800 275.700H1141.200" fill="none" stroke="#000" stroke-width="2.5" stroke-dasharray="8.600 4.500"/>
<path d="M1049.200 248.600H1141.200" fill="none" stroke="#000" stroke-width="2.5" stroke-dasharray="8.600 4.500"/>
<path d="M1141.100 248.600V776" fill="none" stroke="#000" stroke-width="2.4" stroke-dasharray="8.500 4.800" stroke-dashoffset="5.800"/>
<path d="M944.300 275.700V486" fill="none" stroke="#000" stroke-width="3.05" stroke-dasharray="10.900 3.400" stroke-dashoffset="4.800"/>
<path d="M1049.100 248.600V655" fill="none" stroke="#000" stroke-width="2.25" stroke-dasharray="9.100 4.200" stroke-dashoffset="2.600"/>
<path d="M1044.800 275.700a4.400 4.400 0 0 1 8.800 0" fill="none" stroke="#fff" stroke-width="3"/><path d="M1046.200 273.500q3-3.500 6 0" fill="none" stroke="#000" stroke-width="1.5"/>
<path d="M938 489L944.300 495.200L950.600 489" fill="none" stroke="#000" stroke-width="2.7"/><line x1="944.3" y1="484" x2="944.3" y2="494" stroke="#000" stroke-width="3"/>
<path d="M1042.4 650.7L1048.7 663.3L1055 650.7" fill="none" stroke="#000" stroke-width="2.6" stroke-linejoin="miter"/>
<path d="M1134.9 771.2L1141.2 783.8L1147.5 771.2" fill="none" stroke="#000" stroke-width="2.6" stroke-linejoin="miter"/>
<text x="886.8" y="357" textLength="42" lengthAdjust="spacingAndGlyphs" font-size="13.2" font-style="italic">Sample</text>
<text x="886.8" y="374.5" textLength="50.8" lengthAdjust="spacingAndGlyphs" font-size="13.2" font-style="italic">Shipping</text>
<text x="886.8" y="392.5" textLength="41.2" lengthAdjust="spacingAndGlyphs" font-size="13.2" font-style="italic">(no PII)</text>
<text x="995" y="435" textLength="42" lengthAdjust="spacingAndGlyphs" font-size="13.2" font-style="italic">Sample</text>
<text x="995" y="451.8" textLength="50.8" lengthAdjust="spacingAndGlyphs" font-size="13.2" font-style="italic">Shipping</text>
<text x="995" y="470" textLength="41.2" lengthAdjust="spacingAndGlyphs" font-size="13.2" font-style="italic">(no PII)</text>
<text x="1082.5" y="360.8" textLength="42" lengthAdjust="spacingAndGlyphs" font-size="13.2" font-style="italic">Sample</text>
<text x="1082.5" y="378" textLength="50.8" lengthAdjust="spacingAndGlyphs" font-size="13.2" font-style="italic">Shipping</text>
<text x="1082.5" y="395.8" textLength="41.2" lengthAdjust="spacingAndGlyphs" font-size="13.2" font-style="italic">(no PII)</text>
<line x1="233.8" y1="453.3" x2="811.7" y2="453.3" stroke="#000" stroke-width="1.3"/>
<line x1="233.8" y1="405" x2="233.8" y2="449" stroke="#000" stroke-width="1.2"/><polygon points="233.8,453.3 228.8,448.3 238.8,448.3" fill="#000"/>
<line x1="351.3" y1="418.5" x2="351.3" y2="449" stroke="#000" stroke-width="1.2"/><polygon points="351.3,453.3 346.3,448.3 356.3,448.3" fill="#000"/>
<line x1="456.3" y1="403" x2="456.3" y2="449" stroke="#000" stroke-width="1.2"/><polygon points="456.3,453.3 451.3,448.3 461.3,448.3" fill="#000"/>
<line x1="561.3" y1="389.5" x2="561.3" y2="449" stroke="#000" stroke-width="1.2"/><polygon points="561.3,453.3 556.3,448.3 566.3,448.3" fill="#000"/>
<line x1="680.3" y1="414.5" x2="680.3" y2="449" stroke="#000" stroke-width="1.2"/><polygon points="680.3,453.3 675.3,448.3 685.3,448.3" fill="#000"/>
<line x1="811.7" y1="414.5" x2="811.7" y2="449" stroke="#000" stroke-width="1.2"/><polygon points="811.7,453.3 806.7,448.3 816.7,448.3" fill="#000"/>
<line x1="391.3" y1="453.3" x2="391.3" y2="483.6" stroke="#000" stroke-width="1.2"/><polygon points="391.3,488 385.55,482.5 397.05,482.5" fill="#000"/>
<ellipse cx="391.4" cy="557.52" rx="23.07" ry="3.54" fill="#000" opacity="0.22" filter="url(#blur1)"/><path d="M366.8 545.22 C366.33 532.92,374.48 526,383.71 525.69 L399.09 525.69 C408.32 526,415.7 532.92,415.39 545.22 C415.08 553.67,408.32 556.44,399.09 556.44 L383.71 556.44 C374.48 556.44,367.1 553.67,366.8 545.22Z" fill="#cc0000" stroke="#a40000" stroke-width="1.38"/><path d="M368.52 544.93 C368.09 533.49,375.67 527.05,384.25 526.76 L398.55 526.76 C407.13 527.05,414 533.49,413.71 544.93 C413.42 552.79,407.13 555.37,398.55 555.37 L384.25 555.37 C375.67 555.37,368.8 552.79,368.52 544.93Z" fill="none" stroke="#ef6a6a" stroke-width="1.23" opacity="0.7"/><path d="M387.25 530.3 L391.4 550.75 L395.55 530.3Z" fill="#eef2f2"/><path d="M380.64 528.76 L384.33 535.38 L386.02 528.76Z M402.16 528.76 L398.47 535.38 L396.78 528.76Z" fill="#ffffff" opacity="0.78"/><circle cx="391.4" cy="516" r="16.3" fill="url(#headg)" stroke="#c98a23" stroke-width="1.38"/>
<text x="359.5" y="573.8" textLength="63.5" lengthAdjust="spacingAndGlyphs" font-size="13.2">Contractor</text>
<line x1="427.1" y1="530.8" x2="596.16" y2="530.8" stroke="#000" stroke-width="1.3"/><polygon points="601.2,530.8 594.9,536.8 594.9,524.8" fill="#000"/>
<text x="564.3" y="491.3" textLength="177.2" lengthAdjust="spacingAndGlyphs" font-size="13.2">CDC/ATSDR Encrypted Laptop</text>
<ellipse cx="647.1" cy="571.5" rx="41" ry="2.6" fill="#000" opacity="0.15"/><path d="M615.8 544.5L678.4 544.5L686.6 566.8L607.2 566.8Z" fill="#e4e4e4" stroke="#8c8c8c" stroke-width="1.1"/><path d="M607.2 566.8h79.4v2.6q0 1.6 -1.6 1.6h-76.2q-1.6 0 -1.6 -1.6z" fill="#d2d2d2" stroke="#8c8c8c" stroke-width="1"/><path d="M620.3 548L673.9 548L678.1 560L616.1 560Z" fill="#c4c4c4"/><path d="M639.8 556.2L654.4 556.2L655.6 561.3L638.6 561.3Z" fill="#b5b5b5"/><rect x="610.8" y="563.1" width="72.6" height="1.6" fill="#bdbdbd"/><rect x="640.8" y="565.5" width="12.6" height="1.3" fill="#8e8e8e"/><rect x="615.3" y="497.5" width="63.6" height="47.8" fill="#efefef" stroke="#8c8c8c" stroke-width="1.2" rx="3"/><rect x="621" y="502.7" width="52.3" height="38.6" fill="url(#scrg)" stroke="#204a87" stroke-width="1.5"/><path d="M621.8 540.5L672.5 540.5L672.5 517.5Q655.3 519.5 621.8 540.5Z" fill="#3f72ae" opacity="0.55"/><rect x="642.8" y="499.3" width="8.6" height="1.1" fill="#b0b0b0"/>
<line x1="907" y1="530.8" x2="698.34" y2="530.8" stroke="#000" stroke-width="1.3"/><polygon points="693.3,530.8 699.6,524.8 699.6,536.8" fill="#000"/>
<text x="720" y="523.8" textLength="158" lengthAdjust="spacingAndGlyphs" font-size="13.2">Lab Testing Results (no PII)</text>
<text x="750.8" y="549.5" textLength="86.2" lengthAdjust="spacingAndGlyphs" font-size="13.2">Via Email/sFTP</text>
<g transform="translate(920.600,505) scale(0.990,0.935)"><rect x="0" y="50.3" width="48.6" height="5.1" fill="#1b79c0"/><path d="M2 6.2h19.500v44.100h-19.500z" fill="#fff"/><path d="M3.15 50.3v-42.900h17.200v42.900" fill="none" stroke="#1b79c0" stroke-width="2.3"/><rect x="6.7" y="13" width="10.3" height="2" fill="#1b79c0"/><rect x="6.7" y="19.7" width="10.3" height="2" fill="#1b79c0"/><rect x="6.7" y="26.5" width="10.3" height="2" fill="#1b79c0"/><rect x="6.7" y="33.5" width="10.3" height="2" fill="#1b79c0"/><rect x="6.7" y="41.7" width="10.3" height="2" fill="#1b79c0"/><rect x="10" y="47.4" width="3.8" height="3" fill="#1b79c0"/><path d="M21.5 13.5h24.800v36.800h-24.800z" fill="#1b79c0"/><rect x="23.8" y="19.6" width="17.2" height="30.7" fill="#fff"/><rect x="24.6" y="22.4" width="3.5" height="3.3" fill="#1b79c0"/><rect x="24.6" y="29.8" width="3.5" height="3.3" fill="#1b79c0"/><rect x="24.6" y="38.8" width="3.5" height="3.3" fill="#1b79c0"/><rect x="24.6" y="47.4" width="3.5" height="3" fill="#1b79c0"/><rect x="29.9" y="22.4" width="3.5" height="3.3" fill="#1b79c0"/><rect x="29.9" y="29.8" width="3.5" height="3.3" fill="#1b79c0"/><rect x="29.9" y="38.8" width="3.5" height="3.3" fill="#1b79c0"/><rect x="29.9" y="47.4" width="3.5" height="3" fill="#1b79c0"/><rect x="35.4" y="22.4" width="3.5" height="3.3" fill="#1b79c0"/><rect x="35.4" y="29.8" width="3.5" height="3.3" fill="#1b79c0"/><rect x="35.4" y="38.8" width="3.5" height="3.3" fill="#1b79c0"/><rect x="35.4" y="47.4" width="3.5" height="3" fill="#1b79c0"/><path d="M15.2 0h19.700v11.400h-2.900v-8.200h-16.800z" fill="#1b79c0"/></g>
<text x="900" y="568.8" textLength="95.8" lengthAdjust="spacingAndGlyphs" font-size="12.8" font-weight="bold">Commercial Lab</text>
<text x="165.5" y="623.8" textLength="162.5" lengthAdjust="spacingAndGlyphs" font-size="15.7" font-weight="bold">CDC Network  Firewall</text>
<text x="492.8" y="594.6" textLength="34.6" lengthAdjust="spacingAndGlyphs" font-size="13.2" stroke="#000" stroke-width="0.45">SAMS</text>
<text x="654.3" y="594.6" textLength="67.5" lengthAdjust="spacingAndGlyphs" font-size="13.2" stroke="#000" stroke-width="0.45">VPN/CITGO</text>
<line x1="405.95" y1="660.52" x2="595.25" y2="562.88" stroke="#000" stroke-width="1.6"/><polygon points="602,559.4 595.85,568.2 591.26,559.31" fill="#000"/><polygon points="399.2,664 405.35,655.2 409.94,664.09" fill="#000"/>
<line x1="647.8" y1="583.2" x2="647.8" y2="658.6" stroke="#000" stroke-width="1.3"/><polygon points="647.8,663 642.05,657.5 653.55,657.5" fill="#000"/>
<path d="M241.300 692.700q2.500-1.500 3.300-5.500q-.8-6 4.500-8.800q4.500-2 7.200.3q2.200 2.600 1.600 6.800q-3.500 5.500-11.300 6q-3 .3-5.300 1.200z" fill="#e2444f"/>
<text x="248.3" y="701.1" textLength="92.3" lengthAdjust="spacingAndGlyphs" font-size="23.6" font-weight="bold">REDCap</text>
<text x="250.6" y="706.7" textLength="72.2" lengthAdjust="spacingAndGlyphs" font-size="4.6" fill="#222" font-weight="bold"><tspan fill="#c8202c">R</tspan>esearch <tspan fill="#c8202c">E</tspan>lectronic <tspan fill="#c8202c">D</tspan>ata <tspan fill="#c8202c">Cap</tspan>ture</text>
<path d="M342.8 692.7v29.5a34.5 7.6 0 0 0 69 0v-29.5" fill="url(#cylg)" stroke="#000" stroke-width="1.2"/><ellipse cx="377.3" cy="692.7" rx="34.5" ry="6.6" fill="url(#cylgt)" stroke="#000" stroke-width="1.2"/>
<rect x="356.3" y="662.5" width="42.4" height="29" fill="url(#brw)" stroke="#000" stroke-width="1.2"/><rect x="356.9" y="663.1" width="41.2" height="3.8" fill="#4c82b2"/><rect x="356.9" y="666.9" width="41.2" height="3.5" fill="#fff"/><rect x="381" y="667.2" width="6.2" height="3" fill="#1eb040"/><rect x="387.2" y="667.2" width="10.9" height="3" fill="#a3a3a3"/><line x1="356.9" y1="670.7" x2="398.1" y2="670.7" stroke="#9ab" stroke-width="0.6"/><circle cx="366.4" cy="680" r="6.7" fill="url(#globe)" stroke="#184c8c" stroke-width="0.5"/><path d="M362.500 676.500q2-2.500 4.500-2.200l-1 2.700l-2 1.500l.8 2.500l2.200.8l.8 3l-2 1.800q-3.500-1-4.300-4.600q-.3-3.200 1-5.500zM369.800 676q2.300 1.500 2.700 4.500l-1.500 3l-1.300-2.500l.8-2.300z" fill="#7fca3a"/><line x1="377.2" y1="676.5" x2="395" y2="676.5" stroke="#4c82b2" stroke-width="0.9"/><line x1="377.2" y1="680.5" x2="395" y2="680.5" stroke="#4c82b2" stroke-width="0.9"/><line x1="377.2" y1="684.5" x2="395" y2="684.5" stroke="#4c82b2" stroke-width="0.9"/>
<path d="M489.500 730.500H806.500V826.500H489.500Z" fill="none" stroke="#000" stroke-width="1" stroke-dasharray="11.300 6"/>
<text x="481.4" y="673.8" textLength="135.2" lengthAdjust="spacingAndGlyphs" font-size="13.2">Encrypted MUST Share</text>
<path d="M648.400 663.200L709.400 696.600L648.800 731.400L587.600 697.100Z" fill="url(#mtop)"/><path d="M587.600 697.100L648.800 731.400V748.100L587.600 713.600Z" fill="url(#mleft)"/><path d="M709.400 696.600L648.800 731.400V748.100L709.400 714.700Z" fill="url(#mright)"/><line x1="587.6" y1="697.1" x2="648.8" y2="731.4" stroke="#000" stroke-width="1"/><line x1="648.8" y1="731.4" x2="648.8" y2="748.1" stroke="#999" stroke-width="0.8"/><path d="M648.400 663.200L709.400 696.600V714.700L648.800 748.100L587.600 713.600V697.100Z" fill="none" stroke="#f00" stroke-width="2.3" stroke-linejoin="round"/>
<line x1="1011.3" y1="695.5" x2="711.04" y2="695.5" stroke="#000" stroke-width="1.3"/><polygon points="706,695.5 712.3,689.5 712.3,701.5" fill="#000"/>
<text x="813.8" y="687" textLength="158" lengthAdjust="spacingAndGlyphs" font-size="13.2">Lab Testing Results (no PII)</text>
<rect x="1024" y="724.9" width="48.6" height="5.1" fill="#1b79c0"/><path d="M1026 680.8h19.500v44.100h-19.500z" fill="#fff"/><path d="M1027.15 724.9v-42.900h17.200v42.900" fill="none" stroke="#1b79c0" stroke-width="2.3"/><rect x="1030.7" y="687.6" width="10.3" height="2" fill="#1b79c0"/><rect x="1030.7" y="694.3" width="10.3" height="2" fill="#1b79c0"/><rect x="1030.7" y="701.1" width="10.3" height="2" fill="#1b79c0"/><rect x="1030.7" y="708.1" width="10.3" height="2" fill="#1b79c0"/><rect x="1030.7" y="716.3" width="10.3" height="2" fill="#1b79c0"/><rect x="1034" y="722" width="3.8" height="3" fill="#1b79c0"/><path d="M1045.5 688.1h24.800v36.800h-24.800z" fill="#1b79c0"/><rect x="1047.8" y="694.2" width="17.2" height="30.7" fill="#fff"/><rect x="1048.6" y="697" width="3.5" height="3.3" fill="#1b79c0"/><rect x="1048.6" y="704.4" width="3.5" height="3.3" fill="#1b79c0"/><rect x="1048.6" y="713.4" width="3.5" height="3.3" fill="#1b79c0"/><rect x="1048.6" y="722" width="3.5" height="3" fill="#1b79c0"/><rect x="1053.9" y="697" width="3.5" height="3.3" fill="#1b79c0"/><rect x="1053.9" y="704.4" width="3.5" height="3.3" fill="#1b79c0"/><rect x="1053.9" y="713.4" width="3.5" height="3.3" fill="#1b79c0"/><rect x="1053.9" y="722" width="3.5" height="3" fill="#1b79c0"/><rect x="1059.4" y="697" width="3.5" height="3.3" fill="#1b79c0"/><rect x="1059.4" y="704.4" width="3.5" height="3.3" fill="#1b79c0"/><rect x="1059.4" y="713.4" width="3.5" height="3.3" fill="#1b79c0"/><rect x="1059.4" y="722" width="3.5" height="3" fill="#1b79c0"/><path d="M1039.2 674.6h19.700v11.400h-2.900v-8.200h-16.800z" fill="#1b79c0"/>
<text x="1019" y="748.6" textLength="58.3" lengthAdjust="spacingAndGlyphs" font-size="12.8" font-weight="bold">NCEH DLS</text>
<path d="M501.1 759.9v-9.500q0-3.400 3.400-3.400h17.200q2.200 0 3 2.200l1.600 4.500h31.400q3.400 0 3.400 3.400v2.800z" fill="url(#yfb)" stroke="#6b5a2a" stroke-width="0.7"/><path d="M501.1 759.9h60v36.500h-60z" fill="url(#yff)" stroke="#6b5a2a" stroke-width="0.7"/>
<path d="M586.3 759.9v-9.500q0-3.400 3.400-3.400h17.200q2.200 0 3 2.200l1.600 4.500h31.400q3.400 0 3.400 3.400v2.800z" fill="url(#yfb)" stroke="#6b5a2a" stroke-width="0.7"/><path d="M586.3 759.9h60v36.500h-60z" fill="url(#yff)" stroke="#6b5a2a" stroke-width="0.7"/>
<rect x="682.3" y="778.3" width="2.7" height="2.7" fill="#000"/><rect x="688.8" y="778.3" width="2.7" height="2.7" fill="#000"/><rect x="695.3" y="778.3" width="2.7" height="2.7" fill="#000"/>
<path d="M736 788V748q0-1 1-1h14.500q1 0 1.300 1l.5 1.700h29.600l3 2.300V788z" fill="#ee0000"/>
<text x="752.5" y="809" textLength="17.3" lengthAdjust="spacingAndGlyphs" font-size="15.1" fill="#ee0000" font-weight="bold">PII</text>
<text x="502.9" y="817" textLength="61.6" lengthAdjust="spacingAndGlyphs" font-size="13.2">Processing</text>
<text x="592" y="817" textLength="48.4" lengthAdjust="spacingAndGlyphs" font-size="13.2">Transfer</text>
<text x="820" y="774.5" textLength="260.8" lengthAdjust="spacingAndGlyphs" font-size="13.2" font-style="italic">NOTES: PII and non-PII data elements will be</text>
<text x="820" y="791.8" textLength="240" lengthAdjust="spacingAndGlyphs" font-size="13.2" font-style="italic">finalized via HIPAA Expert Determination</text>
<text x="820" y="809.5" textLength="228" lengthAdjust="spacingAndGlyphs" font-size="13.2" font-style="italic">approach at the end of data collection.</text>
<g transform="translate(1117,795.600) scale(0.990,0.970)"><rect x="0" y="50.3" width="48.6" height="5.1" fill="#1b79c0"/><path d="M2 6.2h19.500v44.100h-19.500z" fill="#fff"/><path d="M3.15 50.3v-42.900h17.200v42.900" fill="none" stroke="#1b79c0" stroke-width="2.3"/><rect x="6.7" y="13" width="10.3" height="2" fill="#1b79c0"/><rect x="6.7" y="19.7" width="10.3" height="2" fill="#1b79c0"/><rect x="6.7" y="26.5" width="10.3" height="2" fill="#1b79c0"/><rect x="6.7" y="33.5" width="10.3" height="2" fill="#1b79c0"/><rect x="6.7" y="41.7" width="10.3" height="2" fill="#1b79c0"/><rect x="10" y="47.4" width="3.8" height="3" fill="#1b79c0"/><path d="M21.5 13.5h24.800v36.800h-24.800z" fill="#1b79c0"/><rect x="23.8" y="19.6" width="17.2" height="30.7" fill="#fff"/><rect x="24.6" y="22.4" width="3.5" height="3.3" fill="#1b79c0"/><rect x="24.6" y="29.8" width="3.5" height="3.3" fill="#1b79c0"/><rect x="24.6" y="38.8" width="3.5" height="3.3" fill="#1b79c0"/><rect x="24.6" y="47.4" width="3.5" height="3" fill="#1b79c0"/><rect x="29.9" y="22.4" width="3.5" height="3.3" fill="#1b79c0"/><rect x="29.9" y="29.8" width="3.5" height="3.3" fill="#1b79c0"/><rect x="29.9" y="38.8" width="3.5" height="3.3" fill="#1b79c0"/><rect x="29.9" y="47.4" width="3.5" height="3" fill="#1b79c0"/><rect x="35.4" y="22.4" width="3.5" height="3.3" fill="#1b79c0"/><rect x="35.4" y="29.8" width="3.5" height="3.3" fill="#1b79c0"/><rect x="35.4" y="38.8" width="3.5" height="3.3" fill="#1b79c0"/><rect x="35.4" y="47.4" width="3.5" height="3" fill="#1b79c0"/><path d="M15.2 0h19.700v11.400h-2.900v-8.200h-16.800z" fill="#1b79c0"/></g>
<text x="1133.8" y="863.3" textLength="23.2" lengthAdjust="spacingAndGlyphs" font-size="12.8" font-weight="bold">CDC</text>
<text x="1105" y="875.6" textLength="81.3" lengthAdjust="spacingAndGlyphs" font-size="12.8" font-weight="bold">Biorepository</text>
<path d="M212.500 852.500L239.600 836.900L253.500 845.600V888.100L227.800 903.100L213.100 896.300Z" fill="#fff" stroke="#000" stroke-width="2" stroke-linejoin="round"/><path d="M227.800 860.200L253.500 845.600V888.100L227.800 903.100Z" fill="#ececec"/><path d="M212.500 852.500L227.800 860.200V903.100L213.100 896.300Z" fill="#f8f8f8"/><path d="M212.500 852.500L239.600 836.900L253.500 845.600V888.100L227.800 903.100L213.100 896.300Z" fill="none" stroke="#000" stroke-width="2" stroke-linejoin="round"/><path d="M227.800 860.200L253.500 845.600" fill="none" stroke="#bbb" stroke-width="0.8"/><line x1="227.8" y1="860.2" x2="227.8" y2="903" stroke="#ccc" stroke-width="0.8"/><path d="M216 862l7.500 3.700v6l-7.500-3.700z" fill="#fff" stroke="#000" stroke-width="1.3"/><path d="M218 865l3.500 1.700v1.800l-3.500-1.700z" fill="#666"/><path d="M216.500 876l7 3.700" fill="none" stroke="#000" stroke-width="1.6"/><path d="M216.500 881.5l7 3.700" fill="none" stroke="#000" stroke-width="1.6"/><path d="M216.500 887l7 3.700" fill="none" stroke="#000" stroke-width="1.6"/><path d="M216.500 892.5l7 3.700" fill="none" stroke="#000" stroke-width="1.6"/>
<text x="182.1" y="922" textLength="102.2" lengthAdjust="spacingAndGlyphs" font-size="13.2">Consolidated SAS</text>
<text x="284.4" y="862" textLength="106.3" lengthAdjust="spacingAndGlyphs" font-size="13.2">De-identified data</text>
<line x1="263.8" y1="869.4" x2="412.5" y2="869.4" stroke="#000" stroke-width="1.3"/><polygon points="417.3,869.4 411.3,875.4 411.3,863.4" fill="#000"/><polygon points="259,869.4 265,863.4 265,875.4" fill="#000"/>
<ellipse cx="450.05" cy="894.68" rx="30.63" ry="1.94" fill="#000" opacity="0.15"/><path d="M426.67 874.51L473.44 874.51L479.56 891.17L420.25 891.17Z" fill="#e4e4e4" stroke="#8c8c8c" stroke-width="0.82"/><path d="M420.25 891.17h59.31v1.94q0 1.2 -1.2 1.2h-56.92q-1.2 0 -1.2 -1.2z" fill="#d2d2d2" stroke="#8c8c8c" stroke-width="0.75"/><path d="M430.04 877.12L470.07 877.12L473.21 886.09L426.9 886.09Z" fill="#c4c4c4"/><path d="M444.6 883.25L455.51 883.25L456.4 887.06L443.71 887.06Z" fill="#b5b5b5"/><rect x="422.94" y="888.4" width="54.23" height="1.2" fill="#bdbdbd"/><rect x="445.35" y="890.2" width="9.41" height="0.97" fill="#8e8e8e"/><rect x="426.3" y="839.4" width="47.51" height="35.71" fill="#efefef" stroke="#8c8c8c" stroke-width="0.9" rx="2.24"/><rect x="430.56" y="843.28" width="39.07" height="28.83" fill="url(#scrg)" stroke="#204a87" stroke-width="1.12"/><path d="M431.16 871.52L469.03 871.52L469.03 854.34Q456.18 855.83 431.16 871.52Z" fill="#3f72ae" opacity="0.55"/><rect x="446.84" y="840.74" width="6.42" height="0.82" fill="#b0b0b0"/>
<text x="413.8" y="912" textLength="59.8" lengthAdjust="spacingAndGlyphs" font-size="13.2">CDC Users</text>
<path d="M620.800 831V871.300H489.500" fill="none" stroke="#000" stroke-width="1.3"/><polygon points="620.8,826.5 626.3,832.5 615.3,832.5" fill="#000"/><polygon points="484.3,871.3 490.6,865.3 490.6,877.3" fill="#000"/>
<text x="495.8" y="891.3" textLength="120.5" lengthAdjust="spacingAndGlyphs" font-size="13.2">(Request &amp; approval</text>
<text x="495.8" y="908" textLength="116.7" lengthAdjust="spacingAndGlyphs" font-size="13.2">are required for PII)</text>
<path d="M713.200 826V888.300H849" fill="none" stroke="#000" stroke-width="1.3"/><polygon points="854.3,888.3 848,894.3 848,882.3" fill="#000"/>
<text x="726.3" y="882.5" textLength="106.2" lengthAdjust="spacingAndGlyphs" font-size="13.2">De-identified data</text>
<path d="M854.5 854.2v42a34.3 10 0 0 0 68.6 0v-42" fill="url(#cylg)" stroke="#000" stroke-width="1.2"/><ellipse cx="888.8" cy="854.2" rx="34.3" ry="9" fill="url(#cylgt)" stroke="#000" stroke-width="1.2"/>
<text x="936.8" y="871.8" textLength="107" lengthAdjust="spacingAndGlyphs" font-size="12.8" font-weight="bold">Tracking Network</text>
<text x="936.8" y="890" textLength="124.5" lengthAdjust="spacingAndGlyphs" font-size="12.8" font-weight="bold">SQL Server Database</text></g>
<g id="word-window"><rect x="1280" y="0" width="1280" height="59" fill="#2b579a"/>
<g clip-path="url(#tbclip)">
<defs><clipPath id="tbclip"><rect x="1280" y="0" width="1280" height="59"/></clipPath><clipPath id="stripeclip"><circle cx="2199.700" cy="-14.200" r="51.800"/></clipPath><clipPath id="bigc"><circle cx="2413.500" cy="-28" r="56"/></clipPath></defs>
<rect x="2102.2" y="0" width="3" height="15.7" fill="#254b88"/><rect x="2109.3" y="0" width="3.6" height="23.4" fill="#254b88"/><rect x="2116.4" y="0" width="3.6" height="15.7" fill="#254b88"/><rect x="2123.5" y="0" width="3.1" height="32" fill="#254b88"/><rect x="2131.6" y="0" width="3.1" height="20.3" fill="#254b88"/>
<g clip-path="url(#stripeclip)"><path d="M2149.900 0h7.100v15z" fill="#254b88"/><rect x="2167.7" y="0" width="12.2" height="40" fill="#254b88"/><rect x="2191" y="0" width="13.3" height="40" fill="#254b88"/><rect x="2210.9" y="0" width="3" height="40" fill="#254b88"/><rect x="2216.4" y="0" width="2.6" height="40" fill="#254b88"/><rect x="2221.5" y="0" width="2.5" height="40" fill="#254b88"/><rect x="2226.6" y="0" width="2.1" height="40" fill="#254b88"/><rect x="2231.7" y="0" width="2" height="40" fill="#254b88"/><rect x="2236.2" y="0" width="2.1" height="40" fill="#254b88"/><rect x="2240.8" y="0" width="1.6" height="40" fill="#254b88"/><rect x="2244.9" y="0" width="1.1" height="40" fill="#254b88"/><rect x="2248.9" y="0" width="0.8" height="40" fill="#254b88"/></g>
<circle cx="2272.3" cy="-1" r="13.7" fill="#254b88"/>
<circle cx="2324.6" cy="21.3" r="17" fill="none" stroke="#254b88" stroke-width="6.6"/><circle cx="2324.6" cy="21.3" r="8.6" fill="#254b88"/>
<circle cx="2413.5" cy="-28" r="61.4" fill="none" stroke="#254b88" stroke-width="11"/>
<g clip-path="url(#bigc)"><path d="M2364 3l57 41.400" fill="none" stroke="#254b88" stroke-width="3.5"/><path d="M2372 -4.5l57 41.400" fill="none" stroke="#254b88" stroke-width="3.5"/><path d="M2380.5 -11.5l57 41.400" fill="none" stroke="#254b88" stroke-width="3.5"/><path d="M2413.500 38.500c10-6 22-15 28-30l6 3c-7 17-20 27-34 34z" fill="#254b88"/></g>
<path d="M2458 62l70-66" fill="none" stroke="#254b88" stroke-width="3.7"/><path d="M2468.5 62l70-66" fill="none" stroke="#254b88" stroke-width="3.7"/><path d="M2479 62l70-66" fill="none" stroke="#254b88" stroke-width="3.7"/><path d="M2489.5 62l70-66" fill="none" stroke="#254b88" stroke-width="3.7"/><path d="M2500 62l70-66" fill="none" stroke="#254b88" stroke-width="3.7"/><path d="M2510.5 62l70-66" fill="none" stroke="#254b88" stroke-width="3.7"/>
</g>
<rect x="2481.2" y="35.2" width="62.6" height="23.8" fill="#1e4b8b"/>
<path d="M1302.500 8.700h13v13h-13z M1305 8.700v5h8v-5 M1305.500 21.700v-4.500h7v4.500 M1310.300 18.500v3" fill="none" stroke="#fff" stroke-width="1.5"/>
<path d="M1336.500 8.500l-4.500 4l4.500 4 M1332.500 12.500h7.500c5.500 0 5.500 8 0 8h-2.500" fill="none" stroke="#6d8bc1" stroke-width="1.6"/><polygon points="1351.25,13.5 1355.75,13.5 1353.5,16" fill="#6d8bc1"/>
<path d="M1376.500 10.500c3.500 2.500 3.500 9.500-3.500 9.500s-7.500-7.500-3-10 M1376.500 6.500v4.500h-4.500" fill="none" stroke="#6d8bc1" stroke-width="1.6"/>
<path d="M1396.800 15.500v-7.200c0-1.700 2.600-1.700 2.600 0v5.200l3.200.8c1 .3 1.400.9 1.200 1.900l-.8 5.800h-6l-3.500-5c-.8-1.300.8-2.400 1.900-1.300z" fill="#fff"/><path d="M1394.300 10.500c-.7-3.800 7-4.800 7.400-.5" fill="none" stroke="#fff" stroke-width="1.2"/>
<polygon points="1411.8,13.5 1416.8,13.5 1414.3,16.3" fill="#fff"/>
<line x1="1432.8" y1="14.2" x2="1438" y2="14.2" stroke="#fff" stroke-width="1.2"/><polygon points="1432.9,16.5 1437.9,16.5 1435.4,19.3" fill="#fff"/>
<text x="1745.5" y="22" textLength="346.3" lengthAdjust="spacingAndGlyphs" font-size="12" fill="#c7d3ea">P_Att14 PeaseManualofProcedures_rev110918 [Read-Only] - Word</text>
<rect x="2392.5" y="10.5" width="12" height="8.8" fill="none" stroke="#5f80b8" stroke-width="1"/><line x1="2392.5" y1="12.7" x2="2404.5" y2="12.7" stroke="#5f80b8" stroke-width="1"/><path d="M2398.500 18v-3.800M2396.700 15.700l1.800-1.800l1.800 1.800" fill="none" stroke="#5f80b8" stroke-width="1"/>
<line x1="2440" y1="15.3" x2="2449.7" y2="15.3" stroke="#5f80b8" stroke-width="1"/>
<path d="M2486 12.500h7.500v7h-7.500z M2488.300 12.500v-2.300h7.500v7h-2.300" fill="none" stroke="#5f80b8" stroke-width="1"/>
<path d="M2532 10l10 10M2542 10l-10 10" fill="none" stroke="#5f80b8" stroke-width="1"/>
<rect x="1343" y="35.2" width="60" height="24" fill="#f1f1f1"/>
<text x="1300" y="51" textLength="18.3" lengthAdjust="spacingAndGlyphs" font-size="12.4" fill="#fff">File</text>
<text x="1356.3" y="51" textLength="33" lengthAdjust="spacingAndGlyphs" font-size="12.4" fill="#2b579a">Home</text>
<text x="1418" y="51" textLength="29" lengthAdjust="spacingAndGlyphs" font-size="12.4" fill="#fff">Insert</text>
<text x="1476.3" y="51" textLength="35.5" lengthAdjust="spacingAndGlyphs" font-size="12.4" fill="#fff">Design</text>
<text x="1541.3" y="51" textLength="35.7" lengthAdjust="spacingAndGlyphs" font-size="12.4" fill="#fff">Layout</text>
<text x="1606.3" y="51" textLength="56.7" lengthAdjust="spacingAndGlyphs" font-size="12.4" fill="#fff">References</text>
<text x="1692.5" y="51" textLength="44.5" lengthAdjust="spacingAndGlyphs" font-size="12.4" fill="#fff">Mailings</text>
<text x="1766.3" y="51" textLength="36.7" lengthAdjust="spacingAndGlyphs" font-size="12.4" fill="#fff">Review</text>
<text x="1832" y="51" textLength="25" lengthAdjust="spacingAndGlyphs" font-size="12.4" fill="#fff">View</text>
<path d="M1889.500 52.500h3.400 M1889.200 50.500c0-2-1.800-2.600-1.800-4.800c0-4.600 7.600-4.600 7.600 0c0 2.200-1.800 2.800-1.800 4.800z" fill="none" stroke="#fff" stroke-width="1.1"/>
<text x="1903.3" y="51" textLength="159.7" lengthAdjust="spacingAndGlyphs" font-size="12.4" fill="#d3dcee">Tell me what you want to do...</text>
<text x="2304.2" y="50.7" textLength="166.3" lengthAdjust="spacingAndGlyphs" font-size="12.4" fill="#fff">Serio, Tara (ATSDR/DTHHS/EEB)</text>
<circle cx="2495.2" cy="43.5" r="3.7" fill="none" stroke="#fff" stroke-width="1.3"/><path d="M2488.300 54.500c.5-4.500 3.200-7 6.900-7c1.800 0 3.200.5 4.300 1.500 M2500.300 49.800v6 M2497.300 52.800h6" fill="none" stroke="#fff" stroke-width="1.3"/>
<text x="2507.3" y="50.7" textLength="28.7" lengthAdjust="spacingAndGlyphs" font-size="12.4" fill="#fff">Share</text>
<rect x="1280" y="59" width="1280" height="92" fill="#f1f1f1"/>
<rect x="1280" y="151" width="1280" height="1" fill="#d2d2d2"/>
<line x1="1437.5" y1="63.5" x2="1437.5" y2="147" stroke="#d4d4d4" stroke-width="1"/>
<line x1="1700.5" y1="63.5" x2="1700.5" y2="147" stroke="#d4d4d4" stroke-width="1"/>
<line x1="1925.5" y1="63.5" x2="1925.5" y2="147" stroke="#d4d4d4" stroke-width="1"/>
<line x1="2387.7" y1="63.5" x2="2387.7" y2="147" stroke="#d4d4d4" stroke-width="1"/>
<line x1="2466.4" y1="63.5" x2="2466.4" y2="147" stroke="#d4d4d4" stroke-width="1"/>
<line x1="1627.5" y1="70" x2="1627.5" y2="91.5" stroke="#d4d4d4" stroke-width="1"/>
<line x1="1669.5" y1="70" x2="1669.5" y2="91.5" stroke="#d4d4d4" stroke-width="1"/>
<line x1="1590.5" y1="101" x2="1590.5" y2="122.5" stroke="#d4d4d4" stroke-width="1"/>
<line x1="1810.5" y1="70" x2="1810.5" y2="91.5" stroke="#d4d4d4" stroke-width="1"/>
<line x1="1863.6" y1="70" x2="1863.6" y2="91.5" stroke="#d4d4d4" stroke-width="1"/>
<line x1="1894.4" y1="70" x2="1894.4" y2="91.5" stroke="#d4d4d4" stroke-width="1"/>
<line x1="1797.4" y1="101" x2="1797.4" y2="122.5" stroke="#d4d4d4" stroke-width="1"/>
<line x1="1839.7" y1="101" x2="1839.7" y2="122.5" stroke="#d4d4d4" stroke-width="1"/>
<rect x="1293" y="70.5" width="23.5" height="24" fill="#d9d5d9" rx="1"/><rect x="1298" y="68.5" width="13.5" height="4.5" fill="#c9c5c9" rx="1"/><circle cx="1304.7" cy="68.3" r="1.8" fill="#f1f1f1" stroke="#c9c5c9" stroke-width="1.2"/><path d="M1307.500 78.500h9l4 4v14h-13z" fill="#f6f3f7" stroke="#d0ccd2" stroke-width="1"/><path d="M1316.500 78.500v4h4" fill="none" stroke="#d0ccd2" stroke-width="1"/>
<text x="1291.6" y="111.3" textLength="27.7" lengthAdjust="spacingAndGlyphs" font-size="12.4" fill="#444444">Paste</text><polygon points="1302,122 1307,122 1304.5,124.8" fill="#5e5e5e"/>
<path d="M1333 66l6.500 10.500 M1340.500 66l-6.500 10.500" fill="none" stroke="#a6a6a6" stroke-width="1.3"/><circle cx="1332.3" cy="77.8" r="2" fill="none" stroke="#a6a6a6" stroke-width="1.2"/><circle cx="1341.3" cy="77.8" r="2" fill="none" stroke="#a6a6a6" stroke-width="1.2"/>
<text x="1348.6" y="77.5" textLength="18.2" lengthAdjust="spacingAndGlyphs" font-size="12.4" fill="#a6a6a6">Cut</text>
<path d="M1329.500 89.500h6l2 2v8h-8z M1335.500 92.500h6l2.500 2.500v7.500h-8.500z" fill="#f1f1f1" stroke="#a6a6a6" stroke-width="1"/><line x1="1337" y1="97" x2="1342" y2="97" stroke="#a6a6a6" stroke-width="0.8"/><line x1="1337" y1="99.3" x2="1342" y2="99.3" stroke="#a6a6a6" stroke-width="0.8"/><line x1="1331" y1="92.5" x2="1333.5" y2="92.5" stroke="#a6a6a6" stroke-width="0.8"/><line x1="1331" y1="94.8" x2="1333.5" y2="94.8" stroke="#a6a6a6" stroke-width="0.8"/>
<text x="1348.6" y="100.6" textLength="27.1" lengthAdjust="spacingAndGlyphs" font-size="12.4" fill="#a6a6a6">Copy</text>
<path d="M1329.500 119.500l8-3.500l3 6l-5.500 4z" fill="#e8b25a"/><path d="M1337 115.500l4.500-2.200l2.800 5.600l-4.300 2.300z" fill="#555"/><path d="M1341 113.500l2.500-1.500l1.500 1l.3 3.500l-1.800.8z" fill="#444"/>
<text x="1348.6" y="123.5" textLength="77.6" lengthAdjust="spacingAndGlyphs" font-size="12.4" fill="#444444">Format Painter</text>
<text x="1325.7" y="146.6" textLength="50" lengthAdjust="spacingAndGlyphs" font-size="12.2" fill="#666666">Clipboard</text><path d="M1432.3 140.5h-5.500v5.500 M1429.1 142.8l4 4m0-3.200v3.200h-3.200" fill="none" stroke="#777" stroke-width="1"/>
<rect x="1442.5" y="70.5" width="93" height="22" fill="#fff" stroke="#c6c6c6" stroke-width="1"/><rect x="1535.5" y="70.5" width="43" height="22" fill="#fff" stroke="#c6c6c6" stroke-width="1"/>
<text x="1445.5" y="86" textLength="74.9" lengthAdjust="spacingAndGlyphs" font-size="12.4" fill="#333">Times New Ro</text><polygon points="1525.7,80.5 1530.7,80.5 1528.2,83.3" fill="#5e5e5e"/><text x="1539.4" y="86" textLength="12.2" lengthAdjust="spacingAndGlyphs" font-size="12.4" fill="#333">10</text><polygon points="1568.7,80.5 1573.7,80.5 1571.2,83.3" fill="#5e5e5e"/>
<text x="1585.3" y="86.5" textLength="9.2" lengthAdjust="spacingAndGlyphs" font-size="14.2" fill="#444444">A</text><polygon points="1593.300,77.500 1598.300,77.500 1595.800,74.500" fill="#3a70b8"/>
<text x="1608" y="86.5" textLength="7.6" lengthAdjust="spacingAndGlyphs" font-size="11" fill="#444444">A</text><polygon points="1615,74.800 1620,74.800 1617.500,77.800" fill="#3a70b8"/>
<text x="1635.5" y="84.5" textLength="14.8" lengthAdjust="spacingAndGlyphs" font-size="12.5" fill="#444444">Aa</text><polygon points="1654.9,80 1659.9,80 1657.4,82.8" fill="#5e5e5e"/>
<text x="1679" y="82.5" textLength="7" lengthAdjust="spacingAndGlyphs" font-size="10.5" fill="#555">A</text><path d="M1686.500 76l6.800 4.300l-5.300 8l-6.800-4.300z" fill="#e8808e"/><path d="M1681.200 84l6.800 4.300l-.9 1.400l-6.800-4.300z" fill="#f3b4bc"/>
<text x="1448.5" y="115.3" textLength="7.8" lengthAdjust="spacingAndGlyphs" font-size="12.8" fill="#444444" font-weight="bold">B</text>
<text x="1471" y="115.3" textLength="6.5" lengthAdjust="spacingAndGlyphs" font-size="12.8" fill="#444444" font-weight="bold" font-style="italic" font-family="'Liberation Serif',serif">I</text>
<text x="1492.3" y="115.3" textLength="8.7" lengthAdjust="spacingAndGlyphs" font-size="12.2" fill="#444444">U</text><line x1="1492" y1="118.3" x2="1501.3" y2="118.3" stroke="#444444" stroke-width="1.1"/><polygon points="1510.8,110.5 1515.8,110.5 1513.3,113.3" fill="#5e5e5e"/>
<text x="1523" y="115.3" textLength="16.3" lengthAdjust="spacingAndGlyphs" font-size="10.5" fill="#444444">abc</text><line x1="1522.5" y1="112" x2="1540" y2="112" stroke="#444444" stroke-width="1"/>
<text x="1547" y="115.3" textLength="7" lengthAdjust="spacingAndGlyphs" font-size="12.5" fill="#444444" font-weight="bold">x</text><text x="1555" y="118" font-size="6.5" fill="#3a70b8" font-weight="bold">2</text>
<text x="1568.7" y="115.3" textLength="7" lengthAdjust="spacingAndGlyphs" font-size="12.5" fill="#444444" font-weight="bold">x</text><text x="1576.7" y="109.5" font-size="6.5" fill="#3a70b8" font-weight="bold">2</text>
<text x="1599.8" y="117.4" textLength="12.4" lengthAdjust="spacingAndGlyphs" font-size="16.5" fill="#fff" font-weight="bold" stroke="#3f7fd6" stroke-width="1.300" paint-order="stroke">A</text><polygon points="1618,111 1623,111 1620.5,113.8" fill="#5e5e5e"/>
<text x="1631" y="110.5" textLength="9.5" lengthAdjust="spacingAndGlyphs" font-size="9.5" fill="#444444" font-weight="bold">ab</text><path d="M1645.800 105.500l1.500 1.200l-7 8.500l-2.500 1l.8-2.500z" fill="#666"/><rect x="1631" y="116.2" width="16" height="3.8" fill="#ffff00"/><polygon points="1652.9,111 1657.9,111 1655.4,113.8" fill="#5e5e5e"/>
<text x="1668.4" y="115.4" textLength="9.9" lengthAdjust="spacingAndGlyphs" font-size="14.5" fill="#444444">A</text><rect x="1665" y="116.2" width="16" height="3.8" fill="#ff0000"/><polygon points="1686.8,111 1691.8,111 1689.3,113.8" fill="#5e5e5e"/>
<text x="1549.4" y="146.6" textLength="23.3" lengthAdjust="spacingAndGlyphs" font-size="12.2" fill="#666666">Font</text><path d="M1695 140.5h-5.500v5.500 M1691.8 142.8l4 4m0-3.200v3.200h-3.200" fill="none" stroke="#777" stroke-width="1"/>
<circle cx="1710.4" cy="74.4" r="1.5" fill="#3a70b8"/><line x1="1714.8" y1="74.4" x2="1722.2" y2="74.4" stroke="#6a6a6a" stroke-width="1.1"/>
<circle cx="1710.4" cy="80.6" r="1.5" fill="#3a70b8"/><line x1="1714.8" y1="80.6" x2="1722.2" y2="80.6" stroke="#6a6a6a" stroke-width="1.1"/>
<circle cx="1710.4" cy="86.8" r="1.5" fill="#3a70b8"/><line x1="1714.8" y1="86.8" x2="1722.2" y2="86.8" stroke="#6a6a6a" stroke-width="1.1"/>
<polygon points="1729.8,79.5 1734.8,79.5 1732.3,82.3" fill="#5e5e5e"/>
<text x="1743" y="76.7" font-size="6.5" fill="#3a70b8" font-weight="bold">1</text><line x1="1748.7" y1="74.4" x2="1757" y2="74.4" stroke="#6a6a6a" stroke-width="1.1"/>
<text x="1743" y="82.9" font-size="6.5" fill="#3a70b8" font-weight="bold">2</text><line x1="1748.7" y1="80.6" x2="1757" y2="80.6" stroke="#6a6a6a" stroke-width="1.1"/>
<text x="1743" y="89.1" font-size="6.5" fill="#3a70b8" font-weight="bold">3</text><line x1="1748.7" y1="86.8" x2="1757" y2="86.8" stroke="#6a6a6a" stroke-width="1.1"/>
<polygon points="1763.8,79.5 1768.8,79.5 1766.3,82.3" fill="#5e5e5e"/>
<text x="1776" y="77" font-size="6" fill="#3a70b8" font-weight="bold">1</text><line x1="1781.5" y1="74.4" x2="1792" y2="74.4" stroke="#6a6a6a" stroke-width="1.1"/><text x="1780.5" y="83" font-size="6" fill="#3a70b8" font-weight="bold">a</text><line x1="1785.5" y1="80.6" x2="1792" y2="80.6" stroke="#6a6a6a" stroke-width="1.1"/><text x="1785" y="89.3" font-size="6" fill="#3a70b8" font-weight="bold">i</text><line x1="1788.5" y1="86.8" x2="1792" y2="86.8" stroke="#6a6a6a" stroke-width="1.1"/><polygon points="1796,79.5 1801,79.5 1798.5,82.3" fill="#5e5e5e"/>
<line x1="1818" y1="74.4" x2="1834" y2="74.4" stroke="#6a6a6a" stroke-width="1.1"/><line x1="1818" y1="87" x2="1834" y2="87" stroke="#6a6a6a" stroke-width="1.1"/><line x1="1825.5" y1="77.6" x2="1834" y2="77.6" stroke="#6a6a6a" stroke-width="1.1"/><line x1="1825.5" y1="80.7" x2="1834" y2="80.7" stroke="#6a6a6a" stroke-width="1.1"/><line x1="1825.5" y1="83.8" x2="1834" y2="83.8" stroke="#6a6a6a" stroke-width="1.1"/><path d="M1823.500 80.700h-5.500M1820.700 78l-2.700 2.700l2.700 2.700" fill="none" stroke="#3a70b8" stroke-width="1.4"/>
<line x1="1840" y1="74.4" x2="1856" y2="74.4" stroke="#6a6a6a" stroke-width="1.1"/><line x1="1840" y1="87" x2="1856" y2="87" stroke="#6a6a6a" stroke-width="1.1"/><line x1="1847.5" y1="77.6" x2="1856" y2="77.6" stroke="#6a6a6a" stroke-width="1.1"/><line x1="1847.5" y1="80.7" x2="1856" y2="80.7" stroke="#6a6a6a" stroke-width="1.1"/><line x1="1847.5" y1="83.8" x2="1856" y2="83.8" stroke="#6a6a6a" stroke-width="1.1"/><path d="M1840 80.700h5.500M1842.800 78l2.700 2.700l-2.700 2.700" fill="none" stroke="#3a70b8" stroke-width="1.4"/>
<text x="1872" y="80.3" textLength="7" lengthAdjust="spacingAndGlyphs" font-size="8.5" fill="#3a70b8" font-weight="bold">A</text><text x="1872.3" y="88.3" textLength="6.4" lengthAdjust="spacingAndGlyphs" font-size="8.5" fill="#8a4fb0" font-weight="bold">Z</text><path d="M1883.800 74v13.500M1881 84.700l2.800 2.800l2.800-2.800" fill="none" stroke="#555" stroke-width="1.2"/>
<text x="1904" y="86.5" textLength="11" lengthAdjust="spacingAndGlyphs" font-size="14" fill="#555">¶</text>
<rect x="1705" y="101.2" width="22" height="22.5" fill="#c6c6c6"/>
<line x1="1708.8" y1="107.1" x2="1723.2" y2="107.1" stroke="#6a6a6a" stroke-width="1.1"/><line x1="1708.8" y1="110.3" x2="1719" y2="110.3" stroke="#6a6a6a" stroke-width="1.1"/><line x1="1708.8" y1="113.5" x2="1723.2" y2="113.5" stroke="#6a6a6a" stroke-width="1.1"/><line x1="1708.8" y1="116.7" x2="1719" y2="116.7" stroke="#6a6a6a" stroke-width="1.1"/>
<line x1="1731" y1="107.1" x2="1745" y2="107.1" stroke="#6a6a6a" stroke-width="1.1"/><line x1="1733" y1="110.3" x2="1743" y2="110.3" stroke="#6a6a6a" stroke-width="1.1"/><line x1="1731" y1="113.5" x2="1745" y2="113.5" stroke="#6a6a6a" stroke-width="1.1"/><line x1="1733" y1="116.7" x2="1743" y2="116.7" stroke="#6a6a6a" stroke-width="1.1"/>
<line x1="1752.8" y1="107.1" x2="1767" y2="107.1" stroke="#6a6a6a" stroke-width="1.1"/><line x1="1757" y1="110.3" x2="1767" y2="110.3" stroke="#6a6a6a" stroke-width="1.1"/><line x1="1752.8" y1="113.5" x2="1767" y2="113.5" stroke="#6a6a6a" stroke-width="1.1"/><line x1="1757" y1="116.7" x2="1767" y2="116.7" stroke="#6a6a6a" stroke-width="1.1"/>
<line x1="1775" y1="107.1" x2="1789.2" y2="107.1" stroke="#6a6a6a" stroke-width="1.1"/><line x1="1775" y1="110.3" x2="1789.2" y2="110.3" stroke="#6a6a6a" stroke-width="1.1"/><line x1="1775" y1="113.5" x2="1789.2" y2="113.5" stroke="#6a6a6a" stroke-width="1.1"/><line x1="1775" y1="116.7" x2="1789.2" y2="116.7" stroke="#6a6a6a" stroke-width="1.1"/>
<path d="M1808.200 105v14.500M1805.600 107.600l2.600-2.600l2.600 2.600M1805.600 116.900l2.600 2.600l2.600-2.600" fill="none" stroke="#3a70b8" stroke-width="1.3"/><line x1="1811.8" y1="107.1" x2="1819.7" y2="107.1" stroke="#6a6a6a" stroke-width="1.1"/><line x1="1811.8" y1="110.3" x2="1819.7" y2="110.3" stroke="#6a6a6a" stroke-width="1.1"/><line x1="1811.8" y1="113.5" x2="1819.7" y2="113.5" stroke="#6a6a6a" stroke-width="1.1"/><line x1="1811.8" y1="116.7" x2="1819.7" y2="116.7" stroke="#6a6a6a" stroke-width="1.1"/><polygon points="1824.9,111 1829.9,111 1827.4,113.8" fill="#5e5e5e"/>
<path d="M1853.500 104l6 6l-5.500 5.500l-6-6z" fill="#f1f1f1" stroke="#555" stroke-width="1.1"/><path d="M1852.500 106v-2.500c0-1.500 2.500-1.500 2.500 0v2" fill="none" stroke="#555" stroke-width="1"/><path d="M1860.500 109c1.500 1.500 2 3.500 1 5c-1-1-1.500-2.500-1-5z" fill="#3a70b8"/><rect x="1847.5" y="116.5" width="15.5" height="3" fill="#fff" stroke="#888" stroke-width="0.9"/><polygon points="1868.8,111 1873.8,111 1871.3,113.8" fill="#5e5e5e"/>
<rect x="1882" y="105.3" width="12.8" height="12.5" fill="none" stroke="#777" stroke-width="1" stroke-dasharray="1 1.300"/><line x1="1888.4" y1="105.3" x2="1888.4" y2="117.8" stroke="#777" stroke-width="1" stroke-dasharray="1 1.300"/><line x1="1882" y1="111.5" x2="1894.8" y2="111.5" stroke="#777" stroke-width="1" stroke-dasharray="1 1.300"/><line x1="1881.5" y1="118" x2="1895.3" y2="118" stroke="#555" stroke-width="1.3"/><polygon points="1902.9,111 1907.9,111 1905.4,113.8" fill="#5e5e5e"/>
<text x="1778.6" y="146.6" textLength="52" lengthAdjust="spacingAndGlyphs" font-size="12.2" fill="#666666">Paragraph</text><path d="M1920 140.5h-5.500v5.500 M1916.8 142.8l4 4m0-3.200v3.200h-3.200" fill="none" stroke="#777" stroke-width="1"/>
<rect x="1931.5" y="65.5" width="448" height="59" fill="#fff" stroke="#c6c6c6" stroke-width="1"/>
<rect x="2365.5" y="66" width="13.5" height="20" fill="#e9e9e9"/><line x1="2365.5" y1="66" x2="2365.5" y2="124" stroke="#c6c6c6" stroke-width="1"/><line x1="2365.5" y1="86" x2="2379" y2="86" stroke="#c6c6c6" stroke-width="1"/><line x1="2365.5" y1="105.5" x2="2379" y2="105.5" stroke="#c6c6c6" stroke-width="1"/>
<polygon points="2370,77.500 2375,77.500 2372.500,74.700" fill="#c0c0c0"/><polygon points="2370,95 2375,95 2372.5,97.8" fill="#5e5e5e"/><line x1="2370" y1="112.5" x2="2375" y2="112.5" stroke="#5e5e5e" stroke-width="1"/><polygon points="2370,114.8 2375,114.8 2372.5,117.6" fill="#5e5e5e"/>
<text x="1938.8" y="91.3" textLength="58.2" lengthAdjust="spacingAndGlyphs" font-size="13" fill="#222" font-style="italic" font-family="'Liberation Serif',serif">AaBbCcDc</text>
<text x="2011.3" y="93" textLength="58.2" lengthAdjust="spacingAndGlyphs" font-size="21" fill="#2e74b5" font-family="'Liberation Serif',serif">AaBbC</text>
<text x="2082.5" y="91.5" textLength="58.8" lengthAdjust="spacingAndGlyphs" font-size="13.5" fill="#000" font-weight="bold">AaBbCcD</text>
<text x="2154.5" y="91.5" textLength="58.5" lengthAdjust="spacingAndGlyphs" font-size="12.8" fill="#5b9bd5">AaBbCcDc</text>
<text x="2227" y="92.5" textLength="58.5" lengthAdjust="spacingAndGlyphs" font-size="18.5" fill="#000" font-weight="bold" font-family="'Liberation Serif',serif">AaBbC</text>
<text x="2298.8" y="91.5" textLength="58.7" lengthAdjust="spacingAndGlyphs" font-size="16" fill="#000" font-weight="bold" font-family="'Liberation Serif',serif">AaBbCc</text>
<text x="1943.3" y="115.5" textLength="49.7" lengthAdjust="spacingAndGlyphs" font-size="12.2" fill="#555">Emphasis</text>
<text x="2013.3" y="115.5" textLength="53.5" lengthAdjust="spacingAndGlyphs" font-size="12.2" fill="#555">Heading 1</text>
<text x="2085.5" y="115.5" textLength="53.5" lengthAdjust="spacingAndGlyphs" font-size="12.2" fill="#555">Heading 2</text>
<text x="2157.5" y="115.5" textLength="53.5" lengthAdjust="spacingAndGlyphs" font-size="12.2" fill="#555">Heading 3</text>
<text x="2229.5" y="115.5" textLength="53.5" lengthAdjust="spacingAndGlyphs" font-size="12.2" fill="#555">Heading 4</text>
<text x="2301.3" y="115.5" textLength="53.7" lengthAdjust="spacingAndGlyphs" font-size="12.2" fill="#555">Heading 5</text>
<text x="2134.3" y="146.6" textLength="28.2" lengthAdjust="spacingAndGlyphs" font-size="12.2" fill="#666666">Styles</text><path d="M2380.5 140.5h-5.500v5.500 M2377.3 142.8l4 4m0-3.200v3.200h-3.200" fill="none" stroke="#777" stroke-width="1"/>
<circle cx="2404.5" cy="72" r="3.6" fill="none" stroke="#3a70b8" stroke-width="1.5"/><line x1="2401.8" y1="74.8" x2="2396.8" y2="79.8" stroke="#3a70b8" stroke-width="2"/>
<text x="2414.7" y="77.5" textLength="21.5" lengthAdjust="spacingAndGlyphs" font-size="12.4" fill="#444444">Find</text><polygon points="2446.8,72.5 2451.8,72.5 2449.3,75.3" fill="#5e5e5e"/>
<text x="2395" y="95.5" font-size="9.5" fill="#555" font-weight="bold">a</text><text x="2400.5" y="95.5" font-size="9.5" fill="#8a4fb0" font-weight="bold">b</text><text x="2400" y="103" textLength="11" lengthAdjust="spacingAndGlyphs" font-size="9.5" fill="#555" font-weight="bold">ac</text><path d="M2396 98.500v2.500h2.500M2397.300 99.800l1.300 1.300l-1.300 1.300" fill="none" stroke="#3a70b8" stroke-width="1"/>
<text x="2414.7" y="100.6" textLength="40.5" lengthAdjust="spacingAndGlyphs" font-size="12.4" fill="#444444">Replace</text>
<path d="M2399.500 112v11.500l3-2.700l2 4.500l1.700-.8l-2-4.400l3.800-.3z" fill="#fff" stroke="#555" stroke-width="1"/>
<text x="2414.7" y="123.5" textLength="29.7" lengthAdjust="spacingAndGlyphs" font-size="12.4" fill="#444444">Select</text><polygon points="2448.25,118.5 2452.75,118.5 2450.5,121" fill="#5e5e5e"/>
<text x="2408.8" y="146.6" textLength="35.6" lengthAdjust="spacingAndGlyphs" font-size="12.2" fill="#666666">Editing</text>
<path d="M2541.500 145.300l4.200-4.200l4.200 4.200" fill="none" stroke="#555" stroke-width="1.5"/>
<rect x="1280" y="962" width="1280" height="22" fill="#f1f1f1"/><rect x="1280" y="962" width="1280" height="1" fill="#c6c6c6"/>
<text x="1288.3" y="976.3" textLength="68.5" lengthAdjust="spacingAndGlyphs" font-size="11.6" fill="#666666">Page 44 of 65</text>
<text x="1379.5" y="976.3" textLength="64.3" lengthAdjust="spacingAndGlyphs" font-size="11.6" fill="#666666">18376 words</text>
<path d="M1470 968.500c-2-1.300-4.500-1.300-6.500-.3v9c2-1 4.500-1 6.500.3zM1470 968.500c1-.7 2-1 3-1M1470 977.500c1-.700 2-1 3-1" fill="none" stroke="#666" stroke-width="1"/><path d="M1473 969.500l4 4.500M1477 969.500l-4 4.500" fill="none" stroke="#666" stroke-width="1.2"/>
<path d="M2286 967.500c-2-1.300-4-1.300-6-.5v10c2-.8 4-.8 6 .5c2-1.300 4-1.300 6-.5v-10c-2-.8-4-.8-6 .5zM2286 967.500v10" fill="none" stroke="#666" stroke-width="1"/><line x1="2281.5" y1="969.5" x2="2284.5" y2="969.5" stroke="#6a6a6a" stroke-width="1.1"/><line x1="2281.5" y1="971.5" x2="2284.5" y2="971.5" stroke="#6a6a6a" stroke-width="1.1"/><line x1="2281.5" y1="973.5" x2="2284.5" y2="973.5" stroke="#6a6a6a" stroke-width="1.1"/><line x1="2281.5" y1="975.5" x2="2284.5" y2="975.5" stroke="#6a6a6a" stroke-width="1.1"/><line x1="2287.5" y1="969.5" x2="2290.5" y2="969.5" stroke="#6a6a6a" stroke-width="1.1"/><line x1="2287.5" y1="971.5" x2="2290.5" y2="971.5" stroke="#6a6a6a" stroke-width="1.1"/><line x1="2287.5" y1="973.5" x2="2290.5" y2="973.5" stroke="#6a6a6a" stroke-width="1.1"/><line x1="2287.5" y1="975.5" x2="2290.5" y2="975.5" stroke="#6a6a6a" stroke-width="1.1"/>
<rect x="2306.3" y="963" width="37.5" height="21" fill="#c6c6c6"/><rect x="2318.7" y="966.8" width="12.8" height="12" fill="none" stroke="#666" stroke-width="1.2"/><line x1="2320.3" y1="968.7" x2="2329.9" y2="968.7" stroke="#666" stroke-width="1"/><line x1="2320.3" y1="970.8" x2="2329.9" y2="970.8" stroke="#666" stroke-width="1"/><line x1="2320.3" y1="972.9" x2="2329.9" y2="972.9" stroke="#666" stroke-width="1"/><line x1="2320.3" y1="975" x2="2329.9" y2="975" stroke="#666" stroke-width="1"/><line x1="2320.3" y1="977.1" x2="2329.9" y2="977.1" stroke="#666" stroke-width="1"/>
<rect x="2356.8" y="967" width="10.5" height="9.5" fill="#f1f1f1" stroke="#666" stroke-width="1.1"/><line x1="2358.8" y1="969.3" x2="2365.3" y2="969.3" stroke="#6a6a6a" stroke-width="1.1"/><line x1="2358.8" y1="971.3" x2="2365.3" y2="971.3" stroke="#6a6a6a" stroke-width="1.1"/><line x1="2358.8" y1="973.3" x2="2365.3" y2="973.3" stroke="#6a6a6a" stroke-width="1.1"/><circle cx="2366.3" cy="975.2" r="3.9" fill="#f1f1f1"/><circle cx="2366.3" cy="975.2" r="3.3" fill="#6a6a6a"/><path d="M2364.300 974.200l1.800-1.200l.8 1.600l-1.200 1.300zM2366.800 976.200l1.700-.8l.3 1.600l-1.300.8z" fill="#f1f1f1"/>
<line x1="2387.3" y1="973" x2="2392.7" y2="973" stroke="#555" stroke-width="1.8"/>
<line x1="2397.5" y1="972.5" x2="2496" y2="972.5" stroke="#9a9a9a" stroke-width="1"/><rect x="2445" y="967.2" width="3.7" height="10.8" fill="#5a5a5a"/>
<path d="M2501 973h8.200M2505.100 968.900v8.200" fill="none" stroke="#555" stroke-width="1.8"/>
<text x="2525.5" y="976.3" textLength="26.3" lengthAdjust="spacingAndGlyphs" font-size="11.6" fill="#666666">100%</text></g>
<g id="word-document"><rect x="1280" y="152" width="1280" height="810" fill="#e6e6e6"/>
<g clip-path="url(#docclip)"><defs><clipPath id="docclip"><rect x="1280" y="152" width="1280" height="810"/></clipPath></defs>
<rect x="1503.5" y="140" width="815" height="801.5" fill="#fff" stroke="#c8c8c8" stroke-width="1"/>
<rect x="1503.5" y="956.5" width="815" height="30" fill="#fff" stroke="#c8c8c8" stroke-width="1"/>
<path d="M1535.500 150v759.500h751v-759.500" fill="none" stroke="#000" stroke-width="1.3"/>
<rect x="1550.3" y="274" width="1.6" height="71" fill="#a0a0a0"/><rect x="1550.3" y="456" width="1.6" height="70" fill="#a0a0a0"/>
<text x="1599.5" y="160.7" textLength="605.5" lengthAdjust="spacingAndGlyphs" font-size="13.2">record data to send to ATSDR for review and approval. ATSDR will work with the study staff to resolve</text>
<text x="1599.5" y="178.6" textLength="219" lengthAdjust="spacingAndGlyphs" font-size="13.2">missing values and other data issues.</text>
<text x="1599.5" y="215.8" textLength="616" lengthAdjust="spacingAndGlyphs" font-size="13.2">The study staff will also keep and deliver a shipping log of blood specimens sent to the NCEH laboratory</text>
<text x="1599.5" y="233.8" textLength="585.5" lengthAdjust="spacingAndGlyphs" font-size="13.2">and the commercial laboratory in Microsoft Excel format. The log will include the include vial type,</text>
<text x="1599.5" y="251.8" textLength="248" lengthAdjust="spacingAndGlyphs" font-size="13.2">volume, ID code, date, and carrier details.</text>
<text x="1599.5" y="288" textLength="601.5" lengthAdjust="spacingAndGlyphs" font-size="13.2">ATSDR will receive lab results from the NCEH DLS laboratory<tspan fill="#ed7d31" text-decoration="underline"> via CDC/ATSDR intranet connection</tspan><tspan fill="#ed7d31" text-decoration="line-through"> with</tspan></text>
<text x="1599.5" y="306" textLength="586.5" lengthAdjust="spacingAndGlyphs" font-size="13.2"><tspan fill="#ed7d31" text-decoration="line-through">StarLIMS using study ID and individual lab results</tspan>. From the commercial laboratory the data will be</text>
<text x="1599.5" y="324" textLength="593.5" lengthAdjust="spacingAndGlyphs" font-size="13.2">uploaded th<tspan fill="#ed7d31" text-decoration="underline">r</tspan>ough <tspan fill="#64298f" text-decoration="line-through">secure FTP/Share File</tspan><tspan fill="#64298f" text-decoration="underline">ATSDR approved methods</tspan> and then stored in the encrypted</text>
<text x="1599.5" y="342" textLength="612.5" lengthAdjust="spacingAndGlyphs" font-size="13.2">MUST Share at the CDC<tspan fill="#ed7d31" text-decoration="underline">/ATSDR</tspan>. The lab dataset will be merged by study ID with the questionnaire data</text>
<text x="1599.5" y="360" textLength="311" lengthAdjust="spacingAndGlyphs" font-size="13.2">to create a combined questionnaire and lab dataset.</text>
<rect x="1599" y="384.3" width="255.3" height="16" fill="#ffff00"/>
<text x="1599.5" y="396" textLength="254.5" lengthAdjust="spacingAndGlyphs" font-size="13.2"><tspan font-weight="bold">Figure 1.</tspan> Data flow diagram (separate file).</text>
<text x="1599.5" y="470" textLength="601.5" lengthAdjust="spacingAndGlyphs" font-size="13.2"><tspan fill="#64298f" text-decoration="line-through">All dataset formats will be transformed to SAS datasets (SAS 9.3, Cary NC). All final data management</tspan></text>
<text x="1599.5" y="488" textLength="586.5" lengthAdjust="spacingAndGlyphs" font-size="13.2"><tspan fill="#64298f" text-decoration="line-through">will be performed on this platform. </tspan>Final datasets will be sent to ATSDR <tspan fill="#64298f" text-decoration="line-through">using encrypted, password</tspan></text>
<text x="1599.5" y="506" textLength="600" lengthAdjust="spacingAndGlyphs" font-size="13.2"><tspan fill="#64298f" text-decoration="line-through">coded spreadsheets through a password protected data sharing facility as described above</tspan><tspan fill="#64298f" text-decoration="underline">encrypted</tspan></text>
<text x="1599.5" y="524" textLength="621" lengthAdjust="spacingAndGlyphs" font-size="13.2"><tspan fill="#64298f" text-decoration="underline">MUST share, and </tspan><tspan fill="#64298f" text-decoration="line-through">. T</tspan><tspan fill="#64298f" text-decoration="underline">t</tspan>he contractor will deliver to ATSDR the code <tspan fill="#64298f" text-decoration="underline">(e.g. SAS code for data processing) </tspan>and</text>
<text x="1599.5" y="542" textLength="494" lengthAdjust="spacingAndGlyphs" font-size="13.2">the master key dataset by which the response data are potentially relinkable to PII.</text>
<path d="M1997.500 545.300l1.500 -1.500l1.500 1.500l1.500 -1.500l1.500 1.500l1.500 -1.500l1.500 1.500l1.500 -1.500l1.500 1.500l1.500 -1.500l1.500 1.500l1.500 -1.500l1.500 1.500l1.500 -1.500l1.500 1.500l1.500 -1.500l1.500 1.500l1.500 -1.500l1.500 1.500l1.500 -1.500l1.500 1.500l1.500 -1.500l1.500 1.500l1.500 -1.500l1.500 1.500l1.500 -1.500l1.500 1.500l1.500 -1.500l1.500 1.500l1.500 -1.500l1.500 1.500l1.500 -1.500l1.500 1.500l1.500 -1.500l1.500 1.500l1.500 -1.500l1.500 1.500l1.500 -1.500l1.500 1.500l1.500 -1.500" fill="none" stroke="#e8392c" stroke-width="0.9"/>
<text x="1599.5" y="578" textLength="572.5" lengthAdjust="spacingAndGlyphs" font-size="13.2">Consent forms that collect the signatures of participants will be paper instruments and the adult</text>
<text x="1599.5" y="596" textLength="620" lengthAdjust="spacingAndGlyphs" font-size="13.2">participant or parent of the child participant will receive a copy of the consent form. Height, weight, and</text>
<text x="1599.5" y="614" textLength="620.5" lengthAdjust="spacingAndGlyphs" font-size="13.2">other applicable body measures and blood pressure will be recorded on a paper form and transferred to</text>
<text x="1599.5" y="632" textLength="112.5" lengthAdjust="spacingAndGlyphs" font-size="13.2">an electronic form.</text>
<text x="1599.5" y="705" textLength="207" lengthAdjust="spacingAndGlyphs" font-size="13.2" fill="#4a86c8">13.1. c. Data quality control checks</text>
<text x="1599.5" y="751" textLength="440.5" lengthAdjust="spacingAndGlyphs" font-size="13.2">Data quality control checks may identify potential data anomalies such as:</text>
<circle cx="1650" cy="773.7" r="2.6" fill="#000"/>
<text x="1689" y="778" textLength="129.5" lengthAdjust="spacingAndGlyphs" font-size="13.2">Missing data or forms</text>
<circle cx="1650" cy="796.2" r="2.6" fill="#000"/>
<text x="1689" y="800.5" textLength="188.5" lengthAdjust="spacingAndGlyphs" font-size="13.2">Out-of-range or erroneous data</text>
<circle cx="1650" cy="818.7" r="2.6" fill="#000"/>
<text x="1689" y="823" textLength="243" lengthAdjust="spacingAndGlyphs" font-size="13.2">Inconsistent and illogical dates over time</text>
<path d="M1504 825.500h518.500v32" fill="none" stroke="#4a7ebb" stroke-width="1" stroke-dasharray="2.500 1.500"/><polygon points="2018.500,857.500 2026.500,857.500 2022.500,864.500" fill="#4a7ebb"/>
<text x="1599.5" y="890.5" textLength="162" lengthAdjust="spacingAndGlyphs" font-size="12.8" fill="#808080" font-style="italic" font-family="'Liberation Serif',serif">Version 5 – November 2, 2018</text>
<text x="2126.5" y="890.5" textLength="74.5" lengthAdjust="spacingAndGlyphs" font-size="12.8" fill="#808080" font-style="italic" font-family="'Liberation Serif',serif">Page <tspan font-weight="bold">45</tspan> of <tspan font-weight="bold">65</tspan></text>
</g></g>
<g id="taskbar-left"><g><rect x="0" y="984" width="1280" height="40" fill="#05070c"/>
<rect x="441" y="984" width="48" height="40" fill="#323438"/>
<path d="M16 998.300l6.500-.9v6.200h-6.500z M23.300 997.300l8.700-1.300v7.600h-8.700z M16 1004.400h6.500v6.200l-6.500-.9z M23.300 1004.400h8.700v7.600l-8.700-1.300z" fill="#ffffff"/>
<circle cx="74.8" cy="1001.7" r="5.3" fill="none" stroke="#fff" stroke-width="1.5"/><line x1="71" y1="1005.7" x2="64.8" y2="1011.5" stroke="#fff" stroke-width="1.7"/>
<rect x="114" y="997.8" width="12.5" height="12.2" fill="none" stroke="#fff" stroke-width="1.4"/><path d="M112 999.300h-1.800v9.200h1.800M128.500 999.300h1.800v9.200h-1.800" fill="none" stroke="#fff" stroke-width="1.3"/>
<path d="M160 997.500c0-.8.500-1.400 1.300-1.400h5.500l1.700 1.800h11.700c.8 0 1.300.5 1.300 1.300v12.300h-21.500z" fill="#f7d36a"/><rect x="160" y="1000" width="21.5" height="11.5" fill="#fbe493"/><rect x="161" y="996.8" width="3.5" height="1.3" fill="#fff6c8"/><path d="M164.500 1011.500v-6.500h12.500v6.500h-3v-3.500h-6.500v3.500z" fill="#3a9fe3"/><rect x="164.5" y="1004.2" width="12.5" height="1.6" fill="#5ab8f2"/>
<text x="211.5" y="1012" textLength="17" lengthAdjust="spacingAndGlyphs" font-size="27" fill="#35b4f0" font-weight="bold" font-family="'Liberation Sans',sans-serif">e</text><path d="M209.800 1011.800c-2.500-5 6-14.500 17.500-16.600c2.600-.4 3.800.6 2.700 2.800c.2-1.200-.9-1.600-2.600-1.200c-8 2-16.800 9.700-16.600 14.200c.1 1.100 1 1.500 2.300 1.300c-1.500.8-2.800.6-3.300-.5z" fill="#f5c518"/>
<path d="M258 995.500l12-2.500v22l-12-2.500z" fill="#0a64ba"/><rect x="270" y="997" width="10.5" height="11" fill="#1a78d0"/><path d="M270.500 998l5 4.200l5-4.200" fill="none" stroke="#fff" stroke-width="1.4"/><text x="261" y="1008" textLength="6.5" lengthAdjust="spacingAndGlyphs" font-size="11.5" fill="#fff" font-weight="bold">o</text><rect x="268" y="1007.2" width="15" height="10" fill="#e9b877"/><path d="M268.300 1007.600l7.200 5.400l7.200-5.400" fill="none" stroke="#fff" stroke-width="1.2"/>
<circle cx="316" cy="1002.5" r="8.8" fill="#16aff0"/><circle cx="311.8" cy="997.6" r="4.8" fill="#16aff0"/><circle cx="320.4" cy="1007.5" r="4.8" fill="#16aff0"/><circle cx="316" cy="1002.5" r="7.4" fill="#fff"/><circle cx="312.1" cy="997.9" r="3.5" fill="#fff"/><circle cx="320.1" cy="1007.2" r="3.5" fill="#fff"/><text x="311.7" y="1007.9" textLength="8.6" lengthAdjust="spacingAndGlyphs" font-size="15" fill="#16aff0" font-weight="bold">S</text><circle cx="326" cy="1011.3" r="4.6" fill="#6fb523" stroke="#fff" stroke-width="1.1"/><path d="M323.800 1011.300l1.600 1.700l3-3.300" fill="none" stroke="#fff" stroke-width="1.2"/>
<rect x="366" y="996.5" width="12" height="14.5" fill="#ffffff"/><line x1="369" y1="998.5" x2="376.5" y2="998.5" stroke="#2b579a" stroke-width="0.9"/><line x1="369" y1="1000.3" x2="376.5" y2="1000.3" stroke="#2b579a" stroke-width="0.9"/><line x1="369" y1="1002.1" x2="376.5" y2="1002.1" stroke="#2b579a" stroke-width="0.9"/><line x1="369" y1="1003.9" x2="376.5" y2="1003.9" stroke="#2b579a" stroke-width="0.9"/><line x1="369" y1="1005.7" x2="376.5" y2="1005.7" stroke="#2b579a" stroke-width="0.9"/><line x1="369" y1="1007.5" x2="376.5" y2="1007.5" stroke="#2b579a" stroke-width="0.9"/><line x1="369" y1="1009.3" x2="376.5" y2="1009.3" stroke="#2b579a" stroke-width="0.9"/><path d="M356 995.500l12.500-2.500v22l-12.500-2.500z" fill="#2b579a"/><text x="358" y="1008" textLength="8.5" lengthAdjust="spacingAndGlyphs" font-size="10" fill="#fff" font-weight="bold">W</text>
<defs><linearGradient id="sasg0" x1="0" y1="0" x2="0.300" y2="1"><stop offset="0" stop-color="#7ea3e6"/><stop offset="0.550" stop-color="#5583dc"/><stop offset="1" stop-color="#2f5cc4"/></linearGradient><radialGradient id="sasr0" cx="0.400" cy="0.720" r="0.450"><stop offset="0" stop-color="#e8f2ff"/><stop offset="1" stop-color="#5a84dc" stop-opacity="0"/></radialGradient></defs>
<rect x="404" y="992" width="22" height="22" fill="url(#sasg0)" rx="1.5"/><rect x="404" y="992" width="22" height="22" fill="url(#sasr0)" rx="1.5"/><text x="406.3" y="1002.8" textLength="17.7" lengthAdjust="spacingAndGlyphs" font-size="12.5" fill="#111" stroke="#111" stroke-width="0.35">sas</text>
<rect x="454.3" y="995.8" width="20.8" height="15.3" fill="#f1ede4"/><path d="M457 1006l6.500-7.500h7.500l-5 4.500l-4 .5z" fill="#e8622c"/><path d="M456 1010.500v-3.500l6-1.500l6 2l4 3z" fill="#a8744a"/><path d="M468 1000l3.500-2l1.500 4l-3 4l-2-2z" fill="#8fb24a"/><rect x="470.5" y="1004.5" width="2.5" height="5.5" fill="#c23a2a"/>
<rect x="151.4" y="1021.7" width="39.4" height="2.3" fill="#76b9ed"/>
<rect x="200" y="1021.7" width="31" height="2.3" fill="#76b9ed"/>
<rect x="249" y="1021.7" width="39.7" height="2.3" fill="#76b9ed"/>
<rect x="298" y="1021.7" width="40" height="2.3" fill="#76b9ed"/>
<rect x="347" y="1021.7" width="31" height="2.3" fill="#76b9ed"/>
<rect x="396" y="1021.7" width="40" height="2.3" fill="#76b9ed"/>
<rect x="441" y="1021.7" width="48" height="2.3" fill="#76b9ed"/>
<rect x="231.6" y="1021.7" width="8.2" height="2.3" fill="#4d7ea8"/>
<rect x="378.6" y="1021.7" width="8.1" height="2.3" fill="#4d7ea8"/>
<path d="M1006 1006.300l5-5l5 5" fill="none" stroke="#fff" stroke-width="1.3"/>
<g transform="translate(-1.300,2.300)"><rect x="1040.5" y="998.8" width="10.5" height="7" fill="none" stroke="#fff" stroke-width="1.1"/><rect x="1051" y="1000.8" width="1.4" height="3" fill="#fff"/><rect x="1042.3" y="1000.6" width="5.5" height="3.4" fill="#fff"/><path d="M1035.500 999.500h3v5h-3c-1.200 0-1.700-1-1.700-2.500s.5-2.500 1.700-2.500zM1036.300 997.500v2M1038 997.500v2" fill="none" stroke="#fff" stroke-width="1"/></g>
<g transform="translate(0,1.300)"><rect x="1070.5" y="998" width="12" height="8.5" fill="none" stroke="#fff" stroke-width="1.1"/><line x1="1076.5" y1="1006.5" x2="1076.5" y2="1010" stroke="#fff" stroke-width="1.1"/><line x1="1072.5" y1="1010.3" x2="1080.5" y2="1010.3" stroke="#fff" stroke-width="1.1"/><rect x="1067" y="996" width="4.5" height="5.5" fill="#05070c" stroke="#fff" stroke-width="1"/><line x1="1069.2" y1="1001.5" x2="1069.2" y2="1005" stroke="#fff" stroke-width="1"/></g>
<g transform="translate(0,1.700)"><path d="M1099.500 1000.500h2.500l3.500-3.500v11l-3.500-3.500h-2.500z" fill="none" stroke="#fff" stroke-width="1.1"/><path d="M1108.500 1000l4.500 4.500M1113 1000l-4.500 4.500" fill="none" stroke="#fff" stroke-width="1.1"/></g>
<g transform="translate(1142,1004.500)"><path d="M-6.500 6.500c-1.500-.5-1.500-2.500.5-3.500l3-1.500 M-3 3.500l7.500-10.500c1-1.200 3.500.5 2.500 2l-7.500 10.500l-3 1.500z M5.500 -2c2 .5 2.500 2 1 3.500l-2.500 2.500" fill="none" stroke="#fff" stroke-width="1.1"/></g>
<text x="1172.5" y="998.6" textLength="43.8" lengthAdjust="spacingAndGlyphs" font-size="11.8" fill="#fff">8:32 AM</text>
<text x="1169.3" y="1016.8" textLength="51.7" lengthAdjust="spacingAndGlyphs" font-size="11.8" fill="#fff">11/9/2018</text>
<path d="M1239.700 997h15v11.300h-5.500l-2 2.700l-2-2.700h-5.500z" fill="none" stroke="#fff" stroke-width="1.2"/>
<line x1="1275.5" y1="984" x2="1275.5" y2="1024" stroke="#5a5a5a" stroke-width="1"/></g></g>
<g id="taskbar-right"><g transform="translate(1280,0)"><rect x="0" y="984" width="1280" height="40" fill="#05070c"/>
<rect x="441" y="984" width="48" height="40" fill="#323438"/>
<path d="M16 998.300l6.500-.9v6.200h-6.500z M23.300 997.300l8.700-1.300v7.600h-8.700z M16 1004.400h6.500v6.200l-6.500-.9z M23.300 1004.400h8.700v7.600l-8.700-1.300z" fill="#ffffff"/>
<circle cx="74.8" cy="1001.7" r="5.3" fill="none" stroke="#fff" stroke-width="1.5"/><line x1="71" y1="1005.7" x2="64.8" y2="1011.5" stroke="#fff" stroke-width="1.7"/>
<rect x="114" y="997.8" width="12.5" height="12.2" fill="none" stroke="#fff" stroke-width="1.4"/><path d="M112 999.300h-1.800v9.200h1.800M128.500 999.300h1.800v9.200h-1.800" fill="none" stroke="#fff" stroke-width="1.3"/>
<path d="M160 997.500c0-.8.500-1.400 1.300-1.400h5.500l1.700 1.800h11.700c.8 0 1.300.5 1.300 1.300v12.300h-21.500z" fill="#f7d36a"/><rect x="160" y="1000" width="21.5" height="11.5" fill="#fbe493"/><rect x="161" y="996.8" width="3.5" height="1.3" fill="#fff6c8"/><path d="M164.500 1011.500v-6.500h12.500v6.500h-3v-3.500h-6.500v3.500z" fill="#3a9fe3"/><rect x="164.5" y="1004.2" width="12.5" height="1.6" fill="#5ab8f2"/>
<text x="211.5" y="1012" textLength="17" lengthAdjust="spacingAndGlyphs" font-size="27" fill="#35b4f0" font-weight="bold" font-family="'Liberation Sans',sans-serif">e</text><path d="M209.800 1011.800c-2.500-5 6-14.500 17.500-16.600c2.600-.4 3.800.6 2.700 2.800c.2-1.200-.9-1.600-2.600-1.200c-8 2-16.800 9.700-16.600 14.200c.1 1.100 1 1.500 2.300 1.300c-1.500.8-2.800.6-3.300-.5z" fill="#f5c518"/>
<path d="M258 995.500l12-2.500v22l-12-2.500z" fill="#0a64ba"/><rect x="270" y="997" width="10.5" height="11" fill="#1a78d0"/><path d="M270.500 998l5 4.200l5-4.200" fill="none" stroke="#fff" stroke-width="1.4"/><text x="261" y="1008" textLength="6.5" lengthAdjust="spacingAndGlyphs" font-size="11.5" fill="#fff" font-weight="bold">o</text><rect x="268" y="1007.2" width="15" height="10" fill="#e9b877"/><path d="M268.300 1007.600l7.200 5.400l7.200-5.400" fill="none" stroke="#fff" stroke-width="1.2"/>
<circle cx="316" cy="1002.5" r="8.8" fill="#16aff0"/><circle cx="311.8" cy="997.6" r="4.8" fill="#16aff0"/><circle cx="320.4" cy="1007.5" r="4.8" fill="#16aff0"/><circle cx="316" cy="1002.5" r="7.4" fill="#fff"/><circle cx="312.1" cy="997.9" r="3.5" fill="#fff"/><circle cx="320.1" cy="1007.2" r="3.5" fill="#fff"/><text x="311.7" y="1007.9" textLength="8.6" lengthAdjust="spacingAndGlyphs" font-size="15" fill="#16aff0" font-weight="bold">S</text><circle cx="326" cy="1011.3" r="4.6" fill="#6fb523" stroke="#fff" stroke-width="1.1"/><path d="M323.800 1011.300l1.600 1.700l3-3.300" fill="none" stroke="#fff" stroke-width="1.2"/>
<rect x="366" y="996.5" width="12" height="14.5" fill="#ffffff"/><line x1="369" y1="998.5" x2="376.5" y2="998.5" stroke="#2b579a" stroke-width="0.9"/><line x1="369" y1="1000.3" x2="376.5" y2="1000.3" stroke="#2b579a" stroke-width="0.9"/><line x1="369" y1="1002.1" x2="376.5" y2="1002.1" stroke="#2b579a" stroke-width="0.9"/><line x1="369" y1="1003.9" x2="376.5" y2="1003.9" stroke="#2b579a" stroke-width="0.9"/><line x1="369" y1="1005.7" x2="376.5" y2="1005.7" stroke="#2b579a" stroke-width="0.9"/><line x1="369" y1="1007.5" x2="376.5" y2="1007.5" stroke="#2b579a" stroke-width="0.9"/><line x1="369" y1="1009.3" x2="376.5" y2="1009.3" stroke="#2b579a" stroke-width="0.9"/><path d="M356 995.500l12.500-2.500v22l-12.500-2.500z" fill="#2b579a"/><text x="358" y="1008" textLength="8.5" lengthAdjust="spacingAndGlyphs" font-size="10" fill="#fff" font-weight="bold">W</text>
<defs><linearGradient id="sasg1280" x1="0" y1="0" x2="0.300" y2="1"><stop offset="0" stop-color="#7ea3e6"/><stop offset="0.550" stop-color="#5583dc"/><stop offset="1" stop-color="#2f5cc4"/></linearGradient><radialGradient id="sasr1280" cx="0.400" cy="0.720" r="0.450"><stop offset="0" stop-color="#e8f2ff"/><stop offset="1" stop-color="#5a84dc" stop-opacity="0"/></radialGradient></defs>
<rect x="404" y="992" width="22" height="22" fill="url(#sasg1280)" rx="1.5"/><rect x="404" y="992" width="22" height="22" fill="url(#sasr1280)" rx="1.5"/><text x="406.3" y="1002.8" textLength="17.7" lengthAdjust="spacingAndGlyphs" font-size="12.5" fill="#111" stroke="#111" stroke-width="0.35">sas</text>
<rect x="454.3" y="995.8" width="20.8" height="15.3" fill="#f1ede4"/><path d="M457 1006l6.500-7.500h7.500l-5 4.500l-4 .5z" fill="#e8622c"/><path d="M456 1010.500v-3.500l6-1.500l6 2l4 3z" fill="#a8744a"/><path d="M468 1000l3.500-2l1.500 4l-3 4l-2-2z" fill="#8fb24a"/><rect x="470.5" y="1004.5" width="2.5" height="5.5" fill="#c23a2a"/>
<rect x="151.4" y="1021.7" width="39.4" height="2.3" fill="#76b9ed"/>
<rect x="200" y="1021.7" width="31" height="2.3" fill="#76b9ed"/>
<rect x="249" y="1021.7" width="39.7" height="2.3" fill="#76b9ed"/>
<rect x="298" y="1021.7" width="40" height="2.3" fill="#76b9ed"/>
<rect x="347" y="1021.7" width="31" height="2.3" fill="#76b9ed"/>
<rect x="396" y="1021.7" width="40" height="2.3" fill="#76b9ed"/>
<rect x="441" y="1021.7" width="48" height="2.3" fill="#76b9ed"/>
<rect x="231.6" y="1021.7" width="8.2" height="2.3" fill="#4d7ea8"/>
<rect x="378.6" y="1021.7" width="8.1" height="2.3" fill="#4d7ea8"/>
<g transform="translate(1200,1004.500)"><path d="M-6.500 6.500c-1.500-.5-1.500-2.500.5-3.500l3-1.500 M-3 3.500l7.500-10.500c1-1.200 3.500.5 2.500 2l-7.500 10.500l-3 1.500z M5.500 -2c2 .5 2.500 2 1 3.500l-2.500 2.500" fill="none" stroke="#fff" stroke-width="1.1"/></g>
<text x="1226.3" y="998.6" textLength="42.5" lengthAdjust="spacingAndGlyphs" font-size="11.8" fill="#fff">8:32 AM</text>
<text x="1223.3" y="1016.8" textLength="50.5" lengthAdjust="spacingAndGlyphs" font-size="11.8" fill="#fff">11/9/2018</text></g></g>
</svg>
</body></html>
